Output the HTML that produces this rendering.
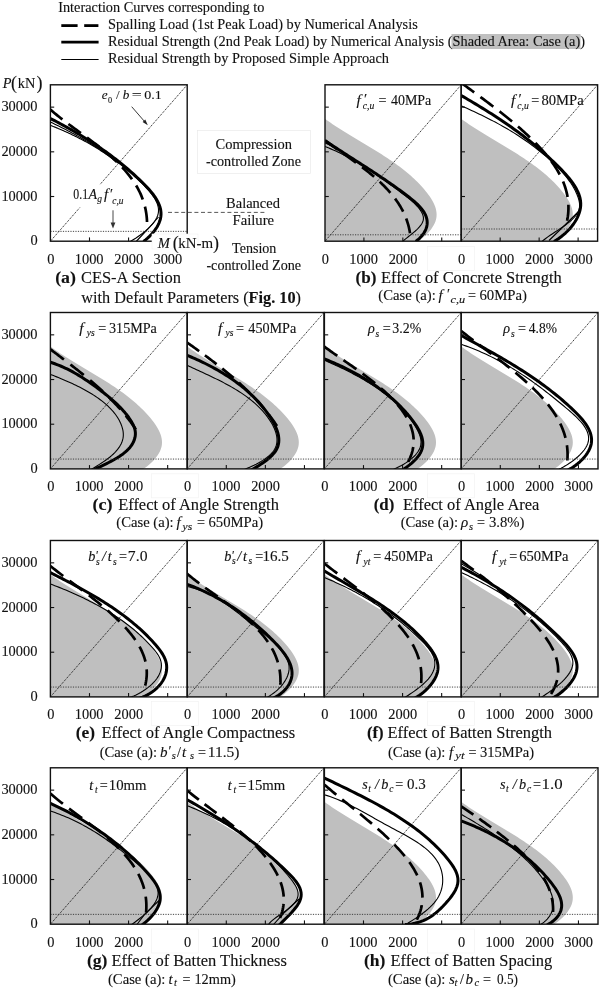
<!DOCTYPE html>
<html><head><meta charset="utf-8"><style>
html,body{margin:0;padding:0;background:#fff;}
svg{display:block;filter:grayscale(1);}
text{font-family:"Liberation Serif", serif;fill:#111;stroke:#111;stroke-width:0.12px;}
</style></head><body>
<svg width="600" height="989" viewBox="0 0 600 989">
<rect width="600" height="989" fill="#fff"/>
<line x1="61.3" y1="25.6" x2="77.6" y2="25.6" stroke="#000" stroke-width="2.8"/>
<line x1="84.2" y1="25.6" x2="98.4" y2="25.6" stroke="#000" stroke-width="2.8"/>
<line x1="61.3" y1="42.2" x2="98.6" y2="42.2" stroke="#000" stroke-width="2.8"/>
<line x1="61.3" y1="59.5" x2="98.6" y2="59.5" stroke="#000" stroke-width="1"/>
<rect x="451.5" y="34" width="129" height="15" fill="#c0c0c0"/>
<clipPath id="c_a"><rect x="50.4" y="84.8" width="136.8" height="156.4"/></clipPath>
<g clip-path="url(#c_a)">
<line x1="50.4" y1="241.2" x2="187.2" y2="84.8" stroke="#111" stroke-width="1" stroke-dasharray="1.05 1.05"/>
<path d="M50.4,122 L52.61,123.07 L54.82,124.14 L57.01,125.22 L59.19,126.31 L61.35,127.4 L63.51,128.49 L65.65,129.6 L67.78,130.71 L69.91,131.83 L72.02,132.96 L74.11,134.09 L76.2,135.24 L78.28,136.39 L80.35,137.56 L82.41,138.73 L84.45,139.92 L86.49,141.12 L88.52,142.33 L90.54,143.56 L92.54,144.8 L94.54,146.05 L96.53,147.32 L98.52,148.6 L100.49,149.9 L102.45,151.21 L104.41,152.54 L106.35,153.89 L108.29,155.25 L110.22,156.64 L112.14,158.04 L114.06,159.46 L115.97,160.9 L117.87,162.36 L119.76,163.84 L121.64,165.34 L123.52,166.86 L125.39,168.41 L127.26,169.98 L129.12,171.57 L130.97,173.19 L132.82,174.82 L134.66,176.49 L136.49,178.18 L138.32,179.89 L140.14,181.63 L141.96,183.4 L143.76,185.19 L145.52,187.01 L147.24,188.85 L148.9,190.71 L150.47,192.58 L151.95,194.47 L153.32,196.38 L154.57,198.29 L155.67,200.22 L156.62,202.15 L157.39,204.09 L157.98,206.04 L158.36,207.98 L158.53,209.93 L158.46,211.87 L158.14,213.81 L157.57,215.74 L156.76,217.67 L155.73,219.57 L154.5,221.46 L153.1,223.32 L151.53,225.15 L149.83,226.95 L148.01,228.71 L146.09,230.42 L144.08,232.09 L142.02,233.7 L139.92,235.25 L137.79,236.74 L135.67,238.17 L133.56,239.52 L131.49,240.8 L129.48,241.99" fill="none" stroke="#000" stroke-width="1.1"/>
<path d="M50.4,125.3 L51.31,125.66 L52.23,126.02 L53.14,126.39 L54.05,126.76 L54.96,127.13 L55.87,127.51 L56.77,127.88 L57.68,128.26 L58.59,128.64 L59.49,129.03 L60.4,129.41 L61.3,129.8 L62.2,130.2 L63.1,130.59 L64,130.99 L64.9,131.39 L65.8,131.79 L66.69,132.2 L67.59,132.61 L68.48,133.02 L69.37,133.44 L70.26,133.85 L71.15,134.28 L72.04,134.7 L72.93,135.13 L73.81,135.55 L74.7,135.99 L75.58,136.42 L76.46,136.86 L77.34,137.3 L78.22,137.75 L79.1,138.19 L79.97,138.65 L80.84,139.1 L81.71,139.56 L82.58,140.02 L83.45,140.48 L84.32,140.95 L85.18,141.41 L86.05,141.89 L86.91,142.36 L87.76,142.84 L88.62,143.32 L89.48,143.81 L90.33,144.3 L91.18,144.79 L92.03,145.29 L92.88,145.78 L93.72,146.29 L94.57,146.79 L95.41,147.3 L96.25,147.81 L97.08,148.33 L97.92,148.85 L98.75,149.37 L99.58,149.9 L100.41,150.43 L101.23,150.96 L102.06,151.5 L102.88,152.04 L103.7,152.58 L104.51,153.13 L105.33,153.68 L106.14,154.23 L106.95,154.79 L107.75,155.35 L108.56,155.92 L109.36,156.49 L110.16,157.06 L110.95,157.64 L111.75,158.22 L112.54,158.8 L113.33,159.39 L114.11,159.98 L114.9,160.58 L115.68,161.18 L116.45,161.78 L117.23,162.39 L118,163" fill="none" stroke="#000" stroke-width="1.1"/>
<path d="M158.5,217 L148,229 L136.2,241.5" fill="none" stroke="#000" stroke-width="1.1"/>
<path d="M50.42,109.6 L51.8,110.8 L53.21,112.01 L54.64,113.2 L56.08,114.4 L57.55,115.59 L59.03,116.77 L60.52,117.95 L62.03,119.13 L63.56,120.3 L65.09,121.48 L66.64,122.65 L68.2,123.82 L69.77,124.99 L71.35,126.16 L72.94,127.33 L74.53,128.5 L76.13,129.67 L77.74,130.84 L79.35,132.02 L80.96,133.19 L82.58,134.37 L84.19,135.56 L85.81,136.74 L87.43,137.93 L89.04,139.13 L90.65,140.32 L92.26,141.53 L93.86,142.74 L95.46,143.95 L97.05,145.18 L98.64,146.41 L100.22,147.64 L101.78,148.89 L103.34,150.14 L104.88,151.4 L106.42,152.67 L107.94,153.95 L109.44,155.24 L110.93,156.54 L112.41,157.85 L113.87,159.18 L115.31,160.51 L116.73,161.86 L118.13,163.21 L119.51,164.59 L120.86,165.97 L122.2,167.37 L123.51,168.78 L124.79,170.21 L126.05,171.65 L127.29,173.11 L128.49,174.59 L129.67,176.08 L130.82,177.59 L131.93,179.11 L133.02,180.65 L134.07,182.21 L135.09,183.79 L136.07,185.39 L137.02,187.01 L137.94,188.65 L138.81,190.31 L139.65,191.98 L140.45,193.68 L141.2,195.4 L141.92,197.15 L142.59,198.91 L143.22,200.7 L143.81,202.51 L144.35,204.35 L144.84,206.21 L145.29,208.09 L145.69,210 L146.04,211.94 L146.34,213.9 L146.59,215.88 L146.79,217.9 L146.94,219.94 L147.03,222.01" fill="none" stroke="#000" stroke-width="2.7" stroke-dasharray="15.52 7.51"/>
<path d="M50.4,118.49 L52.5,119.58 L54.6,120.67 L56.68,121.77 L58.76,122.88 L60.82,123.99 L62.88,125.1 L64.93,126.23 L66.98,127.36 L69.01,128.5 L71.04,129.65 L73.06,130.8 L75.07,131.97 L77.07,133.14 L79.06,134.33 L81.05,135.52 L83.03,136.72 L85,137.94 L86.96,139.16 L88.92,140.4 L90.87,141.64 L92.81,142.9 L94.74,144.17 L96.66,145.45 L98.58,146.75 L100.49,148.06 L102.39,149.38 L104.29,150.72 L106.18,152.07 L108.06,153.43 L109.93,154.81 L111.8,156.2 L113.65,157.61 L115.51,159.04 L117.35,160.48 L119.19,161.94 L121.02,163.41 L122.84,164.9 L124.65,166.41 L126.46,167.94 L128.27,169.49 L130.06,171.05 L131.85,172.63 L133.63,174.23 L135.4,175.86 L137.17,177.5 L138.93,179.16 L140.69,180.84 L142.43,182.54 L144.16,184.27 L145.86,186.01 L147.53,187.77 L149.14,189.56 L150.7,191.36 L152.19,193.18 L153.6,195.02 L154.92,196.88 L156.14,198.76 L157.24,200.66 L158.23,202.57 L159.08,204.5 L159.8,206.45 L160.36,208.41 L160.75,210.4 L160.98,212.39 L161.02,214.41 L160.86,216.44 L160.51,218.49 L159.95,220.54 L159.2,222.6 L158.27,224.65 L157.16,226.69 L155.9,228.7 L154.49,230.69 L152.94,232.63 L151.26,234.53 L149.47,236.38 L147.56,238.16 L145.56,239.87 L143.47,241.5" fill="none" stroke="#000" stroke-width="3" stroke-linejoin="round"/>
</g>
<clipPath id="c_b1"><rect x="325" y="84.8" width="136.2" height="156.4"/></clipPath>
<g clip-path="url(#c_b1)">
<path d="M325.01,118.79 L326.88,120.15 L328.77,121.5 L330.67,122.83 L332.6,124.15 L334.54,125.46 L336.5,126.76 L338.48,128.04 L340.47,129.32 L342.47,130.59 L344.48,131.85 L346.51,133.1 L348.55,134.35 L350.59,135.59 L352.64,136.83 L354.7,138.07 L356.77,139.31 L358.84,140.54 L360.91,141.78 L362.99,143.01 L365.07,144.25 L367.14,145.49 L369.22,146.74 L371.29,147.99 L373.36,149.25 L375.43,150.51 L377.49,151.78 L379.54,153.07 L381.59,154.36 L383.62,155.66 L385.65,156.97 L387.67,158.3 L389.67,159.64 L391.66,161 L393.64,162.37 L395.6,163.76 L397.54,165.17 L399.47,166.6 L401.38,168.04 L403.27,169.51 L405.13,171 L406.98,172.51 L408.8,174.04 L410.6,175.6 L412.37,177.19 L414.11,178.8 L415.83,180.44 L417.52,182.11 L419.18,183.81 L420.8,185.54 L422.4,187.3 L423.96,189.09 L425.49,190.91 L426.98,192.77 L428.41,194.67 L429.78,196.59 L431.07,198.54 L432.26,200.51 L433.34,202.51 L434.29,204.52 L435.1,206.56 L435.75,208.61 L436.23,210.68 L436.52,212.75 L436.61,214.84 L436.49,216.94 L436.13,219.04 L435.53,221.14 L434.7,223.24 L433.65,225.31 L432.41,227.37 L430.98,229.38 L429.4,231.34 L427.68,233.24 L425.84,235.08 L423.9,236.83 L421.87,238.49 L419.77,240.04 L417.63,241.48 L415.47,242.8 L323,243.2 L323,118.79 Z" fill="#bfbfbf" stroke="none"/>
<line x1="325" y1="241.2" x2="461.2" y2="84.8" stroke="#111" stroke-width="1" stroke-dasharray="1.05 1.05"/>
<path d="M325,146.49 L326.95,147.27 L328.88,148.06 L330.79,148.87 L332.68,149.68 L334.55,150.51 L336.4,151.36 L338.23,152.21 L340.05,153.08 L341.84,153.96 L343.63,154.86 L345.39,155.76 L347.14,156.68 L348.88,157.61 L350.61,158.55 L352.32,159.51 L354.03,160.48 L355.72,161.45 L357.41,162.45 L359.08,163.45 L360.75,164.46 L362.41,165.49 L364.07,166.53 L365.72,167.58 L367.36,168.64 L369,169.71 L370.64,170.8 L372.28,171.89 L373.92,173 L375.55,174.12 L377.19,175.25 L378.83,176.39 L380.47,177.54 L382.11,178.71 L383.75,179.88 L385.41,181.07 L387.06,182.26 L388.72,183.47 L390.39,184.69 L392.07,185.91 L393.76,187.15 L395.45,188.4 L397.16,189.66 L398.88,190.93 L400.6,192.21 L402.34,193.5 L404.08,194.8 L405.8,196.12 L407.51,197.44 L409.18,198.79 L410.82,200.15 L412.41,201.52 L413.93,202.91 L415.39,204.33 L416.77,205.76 L418.07,207.21 L419.26,208.68 L420.35,210.18 L421.32,211.7 L422.15,213.23 L422.8,214.78 L423.24,216.34 L423.45,217.89 L423.38,219.43 L423.04,220.95 L422.44,222.47 L421.62,223.97 L420.61,225.45 L419.41,226.92 L418.07,228.37 L416.6,229.81 L415.04,231.23 L413.4,232.64 L411.71,234.03 L410,235.4 L408.29,236.76 L406.61,238.09 L404.99,239.41 L403.44,240.71 L401.99,242" fill="none" stroke="#000" stroke-width="1.1"/>
<path d="M325,143 L333,146.5 L343,152.5" fill="none" stroke="#000" stroke-width="1.1"/>
<path d="M325.02,140.49 L326.26,141.41 L327.52,142.34 L328.79,143.27 L330.07,144.2 L331.35,145.13 L332.65,146.06 L333.96,146.99 L335.28,147.93 L336.6,148.86 L337.93,149.8 L339.27,150.74 L340.61,151.68 L341.96,152.63 L343.31,153.58 L344.66,154.53 L346.02,155.49 L347.38,156.45 L348.75,157.41 L350.11,158.38 L351.48,159.35 L352.84,160.33 L354.21,161.31 L355.57,162.3 L356.93,163.29 L358.29,164.29 L359.64,165.3 L361,166.31 L362.34,167.33 L363.68,168.35 L365.02,169.38 L366.35,170.42 L367.67,171.46 L368.99,172.52 L370.29,173.58 L371.59,174.65 L372.88,175.72 L374.16,176.81 L375.42,177.91 L376.68,179.01 L377.92,180.12 L379.15,181.24 L380.37,182.38 L381.57,183.52 L382.76,184.67 L383.93,185.83 L385.08,187.01 L386.22,188.19 L387.35,189.39 L388.45,190.6 L389.54,191.81 L390.6,193.05 L391.65,194.29 L392.67,195.54 L393.68,196.81 L394.66,198.09 L395.62,199.39 L396.56,200.69 L397.47,202.01 L398.36,203.35 L399.22,204.7 L400.06,206.06 L400.87,207.44 L401.66,208.83 L402.42,210.23 L403.14,211.66 L403.84,213.09 L404.51,214.55 L405.16,216.02 L405.76,217.5 L406.34,219 L406.89,220.52 L407.4,222.06 L407.88,223.61 L408.33,225.18 L408.74,226.77 L409.12,228.37 L409.46,229.99 L409.76,231.63 L410.03,233.29" fill="none" stroke="#000" stroke-width="2.7" stroke-dasharray="15.39 7.45"/>
<path d="M325,140.49 L326.68,141.64 L328.36,142.78 L330.03,143.91 L331.7,145.03 L333.38,146.14 L335.05,147.25 L336.71,148.36 L338.38,149.45 L340.05,150.54 L341.72,151.63 L343.38,152.71 L345.05,153.79 L346.71,154.86 L348.37,155.93 L350.03,157 L351.69,158.06 L353.35,159.13 L355.01,160.19 L356.67,161.25 L358.32,162.31 L359.98,163.37 L361.64,164.43 L363.29,165.5 L364.94,166.56 L366.6,167.63 L368.25,168.69 L369.9,169.77 L371.56,170.84 L373.21,171.92 L374.86,173 L376.51,174.09 L378.16,175.18 L379.81,176.28 L381.46,177.38 L383.11,178.49 L384.76,179.61 L386.41,180.73 L388.06,181.87 L389.71,183.01 L391.36,184.16 L393,185.32 L394.65,186.49 L396.3,187.67 L397.95,188.86 L399.6,190.06 L401.25,191.27 L402.9,192.49 L404.55,193.73 L406.2,194.98 L407.85,196.24 L409.49,197.52 L411.11,198.82 L412.71,200.13 L414.28,201.45 L415.8,202.8 L417.26,204.17 L418.66,205.56 L419.99,206.97 L421.23,208.4 L422.39,209.86 L423.44,211.34 L424.38,212.85 L425.2,214.39 L425.89,215.95 L426.44,217.55 L426.85,219.17 L427.1,220.82 L427.2,222.49 L427.12,224.18 L426.88,225.88 L426.46,227.6 L425.85,229.33 L425.04,231.06 L424.04,232.8 L422.83,234.55 L421.41,236.3 L419.76,238.04 L417.89,239.78 L415.79,241.51" fill="none" stroke="#000" stroke-width="3" stroke-linejoin="round"/>
</g>
<clipPath id="c_b2"><rect x="461.2" y="84.8" width="136.4" height="156.4"/></clipPath>
<g clip-path="url(#c_b2)">
<path d="M461.21,118.79 L463.08,120.15 L464.97,121.5 L466.87,122.83 L468.8,124.15 L470.74,125.46 L472.7,126.76 L474.68,128.04 L476.67,129.32 L478.67,130.59 L480.68,131.85 L482.71,133.1 L484.75,134.35 L486.79,135.59 L488.84,136.83 L490.9,138.07 L492.97,139.31 L495.04,140.54 L497.11,141.78 L499.19,143.01 L501.27,144.25 L503.34,145.49 L505.42,146.74 L507.49,147.99 L509.56,149.25 L511.63,150.51 L513.69,151.78 L515.74,153.07 L517.79,154.36 L519.82,155.66 L521.85,156.97 L523.87,158.3 L525.87,159.64 L527.86,161 L529.84,162.37 L531.8,163.76 L533.74,165.17 L535.67,166.6 L537.58,168.04 L539.47,169.51 L541.33,171 L543.18,172.51 L545,174.04 L546.8,175.6 L548.57,177.19 L550.31,178.8 L552.03,180.44 L553.72,182.11 L555.38,183.81 L557,185.54 L558.6,187.3 L560.16,189.09 L561.69,190.91 L563.18,192.77 L564.61,194.67 L565.98,196.59 L567.27,198.54 L568.46,200.51 L569.54,202.51 L570.49,204.52 L571.3,206.56 L571.95,208.61 L572.43,210.68 L572.72,212.75 L572.81,214.84 L572.69,216.94 L572.33,219.04 L571.73,221.14 L570.9,223.24 L569.85,225.31 L568.61,227.37 L567.18,229.38 L565.6,231.34 L563.88,233.24 L562.04,235.08 L560.1,236.83 L558.07,238.49 L555.97,240.04 L553.83,241.48 L551.67,242.8 L459.2,243.2 L459.2,118.79 Z" fill="#bfbfbf" stroke="none"/>
<line x1="461.2" y1="241.2" x2="597.6" y2="84.8" stroke="#111" stroke-width="1" stroke-dasharray="1.05 1.05"/>
<path d="M461.19,105.8 L463.79,106.95 L466.37,108.11 L468.92,109.26 L471.45,110.42 L473.95,111.58 L476.44,112.75 L478.9,113.92 L481.35,115.1 L483.77,116.28 L486.18,117.47 L488.57,118.68 L490.94,119.89 L493.3,121.12 L495.64,122.36 L497.97,123.61 L500.28,124.88 L502.59,126.17 L504.87,127.47 L507.15,128.8 L509.42,130.14 L511.67,131.5 L513.92,132.89 L516.16,134.3 L518.39,135.74 L520.61,137.2 L522.83,138.69 L525.04,140.21 L527.25,141.75 L529.45,143.33 L531.65,144.94 L533.85,146.58 L536.05,148.26 L538.24,149.97 L540.43,151.71 L542.63,153.5 L544.81,155.32 L546.98,157.17 L549.13,159.06 L551.25,160.98 L553.35,162.93 L555.41,164.91 L557.42,166.93 L559.39,168.97 L561.31,171.04 L563.17,173.14 L564.97,175.27 L566.7,177.42 L568.35,179.6 L569.93,181.81 L571.42,184.03 L572.81,186.28 L574.12,188.55 L575.32,190.85 L576.41,193.16 L577.39,195.49 L578.25,197.84 L578.94,200.19 L579.42,202.54 L579.63,204.85 L579.53,207.13 L579.08,209.36 L578.25,211.52 L577.1,213.63 L575.66,215.68 L573.95,217.68 L572.02,219.63 L569.89,221.53 L567.61,223.39 L565.2,225.2 L562.71,226.98 L560.16,228.71 L557.6,230.41 L555.05,232.08 L552.54,233.71 L550.13,235.31 L547.83,236.89 L545.69,238.45 L543.73,239.98 L542,241.5" fill="none" stroke="#000" stroke-width="1.1"/>
<path d="M580,210 L565,225 L549,240.5" fill="none" stroke="#000" stroke-width="1.1"/>
<path d="M461.24,82.79 L463,84.1 L464.77,85.42 L466.56,86.74 L468.36,88.07 L470.17,89.4 L471.99,90.75 L473.82,92.09 L475.66,93.45 L477.5,94.81 L479.36,96.18 L481.22,97.56 L483.08,98.95 L484.95,100.34 L486.83,101.74 L488.7,103.15 L490.58,104.57 L492.46,106 L494.35,107.43 L496.23,108.88 L498.11,110.33 L499.99,111.8 L501.87,113.27 L503.74,114.75 L505.61,116.25 L507.47,117.75 L509.33,119.27 L511.18,120.8 L513.03,122.33 L514.86,123.88 L516.69,125.44 L518.51,127.01 L520.32,128.6 L522.12,130.19 L523.9,131.8 L525.67,133.42 L527.43,135.06 L529.17,136.7 L530.9,138.36 L532.61,140.04 L534.31,141.72 L535.98,143.42 L537.64,145.14 L539.27,146.87 L540.89,148.61 L542.47,150.37 L544.03,152.15 L545.56,153.93 L547.05,155.74 L548.52,157.56 L549.94,159.4 L551.33,161.25 L552.68,163.12 L553.99,165.01 L555.26,166.92 L556.48,168.84 L557.65,170.78 L558.77,172.74 L559.84,174.72 L560.86,176.71 L561.83,178.73 L562.73,180.77 L563.58,182.82 L564.37,184.89 L565.09,186.99 L565.75,189.1 L566.34,191.24 L566.86,193.4 L567.32,195.57 L567.69,197.77 L568,199.99 L568.23,202.24 L568.38,204.5 L568.44,206.79 L568.43,209.1 L568.33,211.44 L568.15,213.79 L567.87,216.18 L567.51,218.58 L567.05,221.01" fill="none" stroke="#000" stroke-width="2.7" stroke-dasharray="16.11 7.79"/>
<path d="M461.2,95.5 L463.58,96.88 L465.96,98.27 L468.32,99.67 L470.68,101.06 L473.02,102.46 L475.36,103.87 L477.69,105.27 L480.01,106.69 L482.32,108.11 L484.62,109.53 L486.91,110.97 L489.2,112.41 L491.47,113.86 L493.73,115.31 L495.99,116.78 L498.24,118.26 L500.47,119.74 L502.7,121.24 L504.92,122.75 L507.14,124.27 L509.34,125.81 L511.53,127.35 L513.72,128.92 L515.89,130.49 L518.06,132.08 L520.22,133.69 L522.37,135.31 L524.51,136.95 L526.64,138.6 L528.77,140.28 L530.88,141.97 L532.99,143.68 L535.09,145.41 L537.18,147.16 L539.26,148.93 L541.33,150.72 L543.39,152.53 L545.45,154.37 L547.5,156.23 L549.54,158.11 L551.57,160.01 L553.59,161.94 L555.6,163.9 L557.61,165.88 L559.61,167.89 L561.59,169.92 L563.54,171.98 L565.46,174.06 L567.32,176.17 L569.11,178.3 L570.82,180.46 L572.45,182.64 L573.96,184.84 L575.36,187.06 L576.62,189.31 L577.74,191.58 L578.7,193.86 L579.5,196.17 L580.11,198.5 L580.52,200.85 L580.72,203.21 L580.7,205.6 L580.45,208 L579.98,210.4 L579.29,212.81 L578.41,215.21 L577.33,217.59 L576.08,219.95 L574.66,222.27 L573.1,224.54 L571.38,226.76 L569.54,228.92 L567.58,231 L565.52,233.01 L563.35,234.92 L561.11,236.74 L558.79,238.45 L556.41,240.04 L553.99,241.51" fill="none" stroke="#000" stroke-width="3" stroke-linejoin="round"/>
</g>
<clipPath id="c_c1"><rect x="50.4" y="312.5" width="136.8" height="156.4"/></clipPath>
<g clip-path="url(#c_c1)">
<path d="M50.41,346.49 L52.28,347.85 L54.17,349.2 L56.07,350.53 L58,351.85 L59.94,353.16 L61.9,354.46 L63.88,355.74 L65.87,357.02 L67.87,358.29 L69.88,359.55 L71.91,360.8 L73.95,362.05 L75.99,363.29 L78.04,364.53 L80.1,365.77 L82.17,367.01 L84.24,368.24 L86.31,369.48 L88.39,370.71 L90.47,371.95 L92.54,373.19 L94.62,374.44 L96.69,375.69 L98.76,376.95 L100.83,378.21 L102.89,379.48 L104.94,380.77 L106.99,382.06 L109.02,383.36 L111.05,384.67 L113.07,386 L115.07,387.34 L117.06,388.7 L119.04,390.07 L121,391.46 L122.94,392.87 L124.87,394.3 L126.78,395.74 L128.67,397.21 L130.53,398.7 L132.38,400.21 L134.2,401.74 L136,403.3 L137.77,404.89 L139.51,406.5 L141.23,408.14 L142.92,409.81 L144.58,411.51 L146.2,413.24 L147.8,415 L149.36,416.79 L150.89,418.61 L152.38,420.47 L153.81,422.37 L155.18,424.29 L156.47,426.24 L157.66,428.21 L158.74,430.21 L159.69,432.22 L160.5,434.26 L161.15,436.31 L161.63,438.38 L161.92,440.45 L162.01,442.54 L161.89,444.64 L161.53,446.74 L160.93,448.84 L160.1,450.94 L159.05,453.01 L157.81,455.07 L156.38,457.08 L154.8,459.04 L153.08,460.94 L151.24,462.78 L149.3,464.53 L147.27,466.19 L145.17,467.74 L143.03,469.18 L140.87,470.5 L48.4,470.9 L48.4,346.49 Z" fill="#bfbfbf" stroke="none"/>
<line x1="50.4" y1="468.9" x2="187.2" y2="312.5" stroke="#111" stroke-width="1" stroke-dasharray="1.05 1.05"/>
<path d="M50.42,374.4 L51.94,374.99 L53.49,375.6 L55.07,376.24 L56.69,376.88 L58.34,377.55 L60.01,378.24 L61.71,378.95 L63.43,379.67 L65.17,380.41 L66.93,381.18 L68.7,381.96 L70.48,382.77 L72.27,383.59 L74.07,384.44 L75.87,385.3 L77.68,386.19 L79.49,387.09 L81.29,388.02 L83.09,388.97 L84.88,389.95 L86.66,390.94 L88.43,391.96 L90.18,392.99 L91.92,394.05 L93.63,395.14 L95.33,396.25 L97,397.38 L98.64,398.53 L100.25,399.71 L101.83,400.91 L103.38,402.13 L104.89,403.38 L106.36,404.66 L107.78,405.95 L109.17,407.28 L110.51,408.63 L111.79,410 L113.03,411.4 L114.21,412.83 L115.34,414.28 L116.4,415.75 L117.41,417.26 L118.35,418.79 L119.23,420.35 L120.03,421.93 L120.77,423.54 L121.43,425.18 L122.01,426.84 L122.49,428.52 L122.88,430.22 L123.15,431.92 L123.3,433.62 L123.32,435.33 L123.2,437.02 L122.92,438.71 L122.49,440.37 L121.92,442.02 L121.21,443.65 L120.37,445.26 L119.41,446.84 L118.34,448.39 L117.16,449.91 L115.89,451.4 L114.53,452.85 L113.08,454.26 L111.56,455.63 L109.98,456.96 L108.35,458.25 L106.67,459.49 L104.97,460.7 L103.25,461.87 L101.53,462.99 L99.82,464.09 L98.13,465.15 L96.48,466.18 L94.88,467.17 L93.34,468.14 L91.87,469.08 L90.5,469.99" fill="none" stroke="#000" stroke-width="1.1"/>
<path d="M50.4,349.3 L51.59,350.19 L52.77,351.09 L53.96,351.98 L55.15,352.88 L56.34,353.78 L57.53,354.68 L58.72,355.58 L59.92,356.49 L61.11,357.39 L62.31,358.3 L63.5,359.21 L64.7,360.12 L65.9,361.04 L67.1,361.95 L68.29,362.87 L69.49,363.79 L70.69,364.72 L71.88,365.64 L73.08,366.57 L74.27,367.5 L75.47,368.44 L76.66,369.37 L77.85,370.31 L79.04,371.26 L80.22,372.2 L81.41,373.15 L82.59,374.1 L83.77,375.06 L84.94,376.02 L86.12,376.98 L87.29,377.95 L88.45,378.92 L89.62,379.89 L90.78,380.87 L91.93,381.85 L93.09,382.84 L94.23,383.82 L95.38,384.82 L96.52,385.82 L97.65,386.82 L98.78,387.82 L99.9,388.83 L101.02,389.85 L102.14,390.87 L103.25,391.89 L104.35,392.92 L105.44,393.95 L106.53,394.99 L107.62,396.03 L108.69,397.08 L109.76,398.13 L110.83,399.19 L111.88,400.26 L112.93,401.32 L113.97,402.4 L115.01,403.48 L116.03,404.56 L117.05,405.65 L118.06,406.75 L119.06,407.85 L120.05,408.96 L121.03,410.07 L122.01,411.19 L122.97,412.32 L123.93,413.45 L124.88,414.59 L125.81,415.73 L126.74,416.88 L127.66,418.04 L128.56,419.2 L129.46,420.38 L130.34,421.55 L131.22,422.74 L132.08,423.93 L132.93,425.12 L133.77,426.33 L134.6,427.54 L135.42,428.76 L136.23,429.98" fill="none" stroke="#000" stroke-width="2.7" stroke-dasharray="16.97 8.21"/>
<path d="M50.39,362.2 L52.64,362.96 L54.83,363.74 L56.98,364.55 L59.08,365.39 L61.15,366.25 L63.17,367.13 L65.15,368.05 L67.11,368.98 L69.03,369.94 L70.93,370.93 L72.8,371.94 L74.65,372.97 L76.48,374.03 L78.29,375.11 L80.09,376.22 L81.88,377.34 L83.66,378.49 L85.43,379.66 L87.21,380.86 L88.98,382.07 L90.76,383.31 L92.54,384.57 L94.33,385.85 L96.13,387.15 L97.94,388.47 L99.74,389.81 L101.55,391.18 L103.36,392.56 L105.15,393.97 L106.94,395.39 L108.71,396.85 L110.46,398.32 L112.19,399.81 L113.9,401.33 L115.58,402.87 L117.23,404.43 L118.84,406.01 L120.42,407.62 L121.96,409.25 L123.45,410.9 L124.89,412.58 L126.28,414.28 L127.62,416 L128.9,417.75 L130.12,419.52 L131.26,421.32 L132.32,423.14 L133.26,424.98 L134.06,426.84 L134.69,428.71 L135.14,430.61 L135.37,432.52 L135.39,434.45 L135.19,436.37 L134.78,438.29 L134.18,440.18 L133.39,442.05 L132.42,443.89 L131.27,445.67 L129.96,447.4 L128.49,449.06 L126.89,450.66 L125.15,452.19 L123.31,453.67 L121.38,455.09 L119.36,456.45 L117.29,457.76 L115.17,459.02 L113.03,460.23 L110.87,461.39 L108.71,462.5 L106.58,463.57 L104.48,464.6 L102.43,465.59 L100.44,466.54 L98.54,467.45 L96.74,468.33 L95.06,469.18 L93.51,469.99" fill="none" stroke="#000" stroke-width="3" stroke-linejoin="round"/>
</g>
<clipPath id="c_c2"><rect x="187.2" y="312.5" width="136.8" height="156.4"/></clipPath>
<g clip-path="url(#c_c2)">
<path d="M187.21,346.49 L189.08,347.85 L190.97,349.2 L192.87,350.53 L194.8,351.85 L196.74,353.16 L198.7,354.46 L200.68,355.74 L202.67,357.02 L204.67,358.29 L206.68,359.55 L208.71,360.8 L210.75,362.05 L212.79,363.29 L214.84,364.53 L216.9,365.77 L218.97,367.01 L221.04,368.24 L223.11,369.48 L225.19,370.71 L227.27,371.95 L229.34,373.19 L231.42,374.44 L233.49,375.69 L235.56,376.95 L237.63,378.21 L239.69,379.48 L241.74,380.77 L243.79,382.06 L245.82,383.36 L247.85,384.67 L249.87,386 L251.87,387.34 L253.86,388.7 L255.84,390.07 L257.8,391.46 L259.74,392.87 L261.67,394.3 L263.58,395.74 L265.47,397.21 L267.33,398.7 L269.18,400.21 L271,401.74 L272.8,403.3 L274.57,404.89 L276.31,406.5 L278.03,408.14 L279.72,409.81 L281.38,411.51 L283,413.24 L284.6,415 L286.16,416.79 L287.69,418.61 L289.18,420.47 L290.61,422.37 L291.98,424.29 L293.27,426.24 L294.46,428.21 L295.54,430.21 L296.49,432.22 L297.3,434.26 L297.95,436.31 L298.43,438.38 L298.72,440.45 L298.81,442.54 L298.69,444.64 L298.33,446.74 L297.73,448.84 L296.9,450.94 L295.85,453.01 L294.61,455.07 L293.18,457.08 L291.6,459.04 L289.88,460.94 L288.04,462.78 L286.1,464.53 L284.07,466.19 L281.97,467.74 L279.83,469.18 L277.67,470.5 L185.2,470.9 L185.2,346.49 Z" fill="#bfbfbf" stroke="none"/>
<line x1="187.2" y1="468.9" x2="324" y2="312.5" stroke="#111" stroke-width="1" stroke-dasharray="1.05 1.05"/>
<path d="M187.21,365.29 L189.04,366.16 L190.89,367.03 L192.75,367.9 L194.64,368.78 L196.54,369.66 L198.45,370.55 L200.38,371.44 L202.32,372.34 L204.27,373.24 L206.23,374.15 L208.19,375.08 L210.16,376.01 L212.14,376.95 L214.12,377.9 L216.09,378.87 L218.07,379.85 L220.05,380.84 L222.02,381.85 L223.98,382.87 L225.94,383.91 L227.89,384.97 L229.83,386.04 L231.75,387.13 L233.67,388.25 L235.56,389.38 L237.45,390.53 L239.31,391.71 L241.15,392.91 L242.98,394.13 L244.78,395.38 L246.55,396.65 L248.3,397.95 L250.02,399.28 L251.72,400.63 L253.38,402.01 L255.01,403.42 L256.61,404.86 L258.17,406.34 L259.69,407.84 L261.18,409.38 L262.62,410.95 L264.03,412.56 L265.39,414.2 L266.7,415.87 L267.97,417.59 L269.19,419.34 L270.36,421.13 L271.48,422.95 L272.52,424.8 L273.48,426.68 L274.35,428.57 L275.11,430.49 L275.76,432.41 L276.28,434.33 L276.67,436.26 L276.91,438.17 L276.99,440.08 L276.9,441.98 L276.63,443.85 L276.16,445.7 L275.49,447.52 L274.61,449.3 L273.5,451.04 L272.15,452.74 L270.59,454.38 L268.84,455.98 L266.94,457.51 L264.91,458.99 L262.78,460.4 L260.59,461.74 L258.37,463 L256.14,464.19 L253.94,465.3 L251.79,466.32 L249.74,467.25 L247.8,468.08 L246.01,468.82 L244.4,469.46 L243,469.99" fill="none" stroke="#000" stroke-width="1.1"/>
<path d="M187.2,342.6 L188.47,343.49 L189.73,344.39 L191,345.29 L192.27,346.19 L193.53,347.09 L194.8,347.99 L196.06,348.9 L197.33,349.81 L198.59,350.72 L199.85,351.64 L201.12,352.55 L202.38,353.47 L203.64,354.4 L204.89,355.32 L206.15,356.25 L207.41,357.18 L208.66,358.12 L209.91,359.06 L211.16,360 L212.41,360.95 L213.65,361.9 L214.89,362.85 L216.13,363.81 L217.37,364.77 L218.6,365.73 L219.83,366.7 L221.06,367.67 L222.28,368.65 L223.5,369.63 L224.72,370.62 L225.93,371.61 L227.14,372.6 L228.34,373.6 L229.54,374.6 L230.74,375.61 L231.93,376.62 L233.12,377.64 L234.3,378.67 L235.48,379.69 L236.65,380.73 L237.82,381.77 L238.98,382.81 L240.14,383.86 L241.29,384.92 L242.44,385.98 L243.58,387.04 L244.71,388.12 L245.84,389.19 L246.96,390.28 L248.07,391.37 L249.18,392.47 L250.28,393.57 L251.38,394.68 L252.47,395.79 L253.55,396.91 L254.62,398.04 L255.69,399.18 L256.75,400.32 L257.8,401.47 L258.84,402.62 L259.88,403.79 L260.9,404.95 L261.92,406.13 L262.93,407.31 L263.94,408.51 L264.93,409.7 L265.92,410.91 L266.89,412.12 L267.86,413.35 L268.82,414.57 L269.77,415.81 L270.7,417.06 L271.63,418.31 L272.55,419.57 L273.46,420.84 L274.36,422.12 L275.25,423.4 L276.13,424.7 L277,426" fill="none" stroke="#000" stroke-width="2.7" stroke-dasharray="14.69 7.11"/>
<path d="M187.21,355.39 L189.14,356.19 L191.08,357 L193.03,357.83 L194.97,358.69 L196.93,359.56 L198.88,360.45 L200.83,361.37 L202.79,362.3 L204.74,363.25 L206.7,364.23 L208.65,365.23 L210.59,366.24 L212.54,367.28 L214.47,368.34 L216.4,369.42 L218.33,370.52 L220.24,371.64 L222.15,372.79 L224.05,373.95 L225.93,375.14 L227.8,376.35 L229.66,377.58 L231.51,378.83 L233.34,380.1 L235.16,381.4 L236.96,382.71 L238.74,384.05 L240.5,385.41 L242.25,386.8 L243.97,388.21 L245.67,389.63 L247.35,391.09 L249.01,392.56 L250.64,394.06 L252.25,395.58 L253.83,397.12 L255.38,398.69 L256.91,400.27 L258.41,401.89 L259.87,403.52 L261.31,405.18 L262.71,406.86 L264.09,408.57 L265.42,410.3 L266.73,412.05 L268,413.83 L269.23,415.63 L270.42,417.45 L271.58,419.3 L272.69,421.17 L273.74,423.07 L274.72,424.97 L275.63,426.89 L276.45,428.82 L277.17,430.76 L277.77,432.7 L278.25,434.63 L278.6,436.57 L278.8,438.5 L278.85,440.42 L278.73,442.33 L278.43,444.23 L277.94,446.1 L277.24,447.95 L276.34,449.78 L275.21,451.58 L273.86,453.35 L272.31,455.08 L270.6,456.77 L268.75,458.41 L266.8,460 L264.79,461.52 L262.73,462.98 L260.68,464.36 L258.65,465.67 L256.69,466.89 L254.82,468.02 L253.08,469.06 L251.49,469.99" fill="none" stroke="#000" stroke-width="3" stroke-linejoin="round"/>
</g>
<clipPath id="c_d1"><rect x="324.4" y="312.5" width="136.8" height="156.4"/></clipPath>
<g clip-path="url(#c_d1)">
<path d="M324.41,346.49 L326.28,347.85 L328.17,349.2 L330.07,350.53 L332,351.85 L333.94,353.16 L335.9,354.46 L337.88,355.74 L339.87,357.02 L341.87,358.29 L343.88,359.55 L345.91,360.8 L347.95,362.05 L349.99,363.29 L352.04,364.53 L354.1,365.77 L356.17,367.01 L358.24,368.24 L360.31,369.48 L362.39,370.71 L364.47,371.95 L366.54,373.19 L368.62,374.44 L370.69,375.69 L372.76,376.95 L374.83,378.21 L376.89,379.48 L378.94,380.77 L380.99,382.06 L383.02,383.36 L385.05,384.67 L387.07,386 L389.07,387.34 L391.06,388.7 L393.04,390.07 L395,391.46 L396.94,392.87 L398.87,394.3 L400.78,395.74 L402.67,397.21 L404.53,398.7 L406.38,400.21 L408.2,401.74 L410,403.3 L411.77,404.89 L413.51,406.5 L415.23,408.14 L416.92,409.81 L418.58,411.51 L420.2,413.24 L421.8,415 L423.36,416.79 L424.89,418.61 L426.38,420.47 L427.81,422.37 L429.18,424.29 L430.47,426.24 L431.66,428.21 L432.74,430.21 L433.69,432.22 L434.5,434.26 L435.15,436.31 L435.63,438.38 L435.92,440.45 L436.01,442.54 L435.89,444.64 L435.53,446.74 L434.93,448.84 L434.1,450.94 L433.05,453.01 L431.81,455.07 L430.38,457.08 L428.8,459.04 L427.08,460.94 L425.24,462.78 L423.3,464.53 L421.27,466.19 L419.17,467.74 L417.03,469.18 L414.87,470.5 L322.4,470.9 L322.4,346.49 Z" fill="#bfbfbf" stroke="none"/>
<line x1="324.4" y1="468.9" x2="461.2" y2="312.5" stroke="#111" stroke-width="1" stroke-dasharray="1.05 1.05"/>
<path d="M324.41,360.3 L326.3,361.11 L328.21,361.94 L330.14,362.78 L332.07,363.64 L334.01,364.52 L335.96,365.41 L337.92,366.31 L339.88,367.23 L341.85,368.17 L343.83,369.12 L345.81,370.09 L347.78,371.08 L349.76,372.08 L351.74,373.11 L353.72,374.14 L355.7,375.2 L357.67,376.27 L359.63,377.37 L361.6,378.48 L363.55,379.6 L365.49,380.75 L367.43,381.92 L369.36,383.1 L371.27,384.31 L373.17,385.53 L375.06,386.78 L376.93,388.04 L378.79,389.33 L380.63,390.63 L382.45,391.96 L384.25,393.3 L386.03,394.67 L387.79,396.06 L389.53,397.47 L391.24,398.9 L392.93,400.36 L394.59,401.84 L396.22,403.34 L397.83,404.86 L399.41,406.4 L400.95,407.97 L402.47,409.56 L403.95,411.18 L405.4,412.82 L406.81,414.48 L408.19,416.17 L409.52,417.88 L410.82,419.62 L412.09,421.38 L413.31,423.16 L414.48,424.98 L415.62,426.81 L416.7,428.67 L417.71,430.55 L418.62,432.45 L419.41,434.36 L420.08,436.28 L420.58,438.2 L420.91,440.13 L421.03,442.05 L420.94,443.96 L420.62,445.87 L420.03,447.76 L419.19,449.63 L418.11,451.47 L416.81,453.27 L415.33,455.03 L413.67,456.74 L411.87,458.39 L409.93,459.96 L407.9,461.46 L405.8,462.88 L403.67,464.21 L401.53,465.45 L399.43,466.58 L397.39,467.61 L395.45,468.52 L393.64,469.32 L391.99,469.99" fill="none" stroke="#000" stroke-width="1.1"/>
<path d="M324.42,346.7 L325.9,347.79 L327.39,348.88 L328.91,349.97 L330.44,351.07 L331.98,352.17 L333.54,353.27 L335.12,354.37 L336.71,355.48 L338.31,356.6 L339.92,357.71 L341.54,358.84 L343.18,359.97 L344.81,361.1 L346.46,362.24 L348.11,363.38 L349.77,364.54 L351.43,365.7 L353.1,366.86 L354.76,368.04 L356.43,369.22 L358.1,370.41 L359.76,371.61 L361.43,372.81 L363.09,374.03 L364.74,375.26 L366.4,376.49 L368.04,377.74 L369.68,379 L371.31,380.27 L372.93,381.55 L374.54,382.84 L376.14,384.14 L377.72,385.46 L379.3,386.78 L380.85,388.13 L382.4,389.48 L383.92,390.85 L385.43,392.23 L386.92,393.63 L388.39,395.04 L389.84,396.47 L391.27,397.91 L392.68,399.37 L394.06,400.84 L395.42,402.33 L396.75,403.84 L398.05,405.36 L399.31,406.9 L400.54,408.45 L401.73,410.02 L402.88,411.6 L403.98,413.2 L405.04,414.82 L406.06,416.45 L407.02,418.1 L407.92,419.76 L408.77,421.44 L409.56,423.13 L410.29,424.84 L410.96,426.56 L411.56,428.3 L412.08,430.05 L412.54,431.82 L412.93,433.6 L413.23,435.39 L413.46,437.2 L413.61,439.03 L413.67,440.87 L413.64,442.72 L413.53,444.59 L413.32,446.47 L413.02,448.37 L412.62,450.28 L412.12,452.2 L411.51,454.14 L410.81,456.09 L409.99,458.05 L409.07,460.03 L408.03,462.02" fill="none" stroke="#000" stroke-width="2.7" stroke-dasharray="15.75 7.62"/>
<path d="M324.41,358.89 L326.34,359.67 L328.27,360.46 L330.2,361.27 L332.13,362.1 L334.07,362.94 L336,363.8 L337.94,364.67 L339.88,365.56 L341.81,366.47 L343.74,367.4 L345.67,368.34 L347.6,369.3 L349.52,370.28 L351.44,371.27 L353.35,372.28 L355.25,373.31 L357.15,374.36 L359.05,375.43 L360.93,376.51 L362.81,377.61 L364.68,378.73 L366.53,379.87 L368.38,381.03 L370.22,382.2 L372.04,383.39 L373.85,384.61 L375.65,385.84 L377.44,387.09 L379.21,388.36 L380.96,389.65 L382.7,390.96 L384.43,392.28 L386.14,393.63 L387.83,395 L389.5,396.38 L391.15,397.79 L392.78,399.22 L394.4,400.66 L395.99,402.13 L397.56,403.62 L399.11,405.12 L400.64,406.65 L402.14,408.2 L403.62,409.77 L405.07,411.36 L406.5,412.97 L407.91,414.6 L409.28,416.26 L410.63,417.93 L411.95,419.63 L413.25,421.35 L414.51,423.09 L415.72,424.84 L416.87,426.62 L417.96,428.41 L418.97,430.22 L419.88,432.04 L420.7,433.87 L421.4,435.71 L421.97,437.56 L422.4,439.42 L422.69,441.28 L422.82,443.14 L422.77,445.01 L422.54,446.88 L422.12,448.75 L421.49,450.61 L420.64,452.47 L419.57,454.32 L418.29,456.16 L416.84,457.97 L415.24,459.74 L413.53,461.45 L411.73,463.11 L409.88,464.68 L407.99,466.17 L406.12,467.56 L404.27,468.84 L402.48,470" fill="none" stroke="#000" stroke-width="3" stroke-linejoin="round"/>
</g>
<clipPath id="c_d2"><rect x="461.2" y="312.5" width="136.8" height="156.4"/></clipPath>
<g clip-path="url(#c_d2)">
<path d="M461.21,346.49 L463.08,347.85 L464.97,349.2 L466.87,350.53 L468.8,351.85 L470.74,353.16 L472.7,354.46 L474.68,355.74 L476.67,357.02 L478.67,358.29 L480.68,359.55 L482.71,360.8 L484.75,362.05 L486.79,363.29 L488.84,364.53 L490.9,365.77 L492.97,367.01 L495.04,368.24 L497.11,369.48 L499.19,370.71 L501.27,371.95 L503.34,373.19 L505.42,374.44 L507.49,375.69 L509.56,376.95 L511.63,378.21 L513.69,379.48 L515.74,380.77 L517.79,382.06 L519.82,383.36 L521.85,384.67 L523.87,386 L525.87,387.34 L527.86,388.7 L529.84,390.07 L531.8,391.46 L533.74,392.87 L535.67,394.3 L537.58,395.74 L539.47,397.21 L541.33,398.7 L543.18,400.21 L545,401.74 L546.8,403.3 L548.57,404.89 L550.31,406.5 L552.03,408.14 L553.72,409.81 L555.38,411.51 L557,413.24 L558.6,415 L560.16,416.79 L561.69,418.61 L563.18,420.47 L564.61,422.37 L565.98,424.29 L567.27,426.24 L568.46,428.21 L569.54,430.21 L570.49,432.22 L571.3,434.26 L571.95,436.31 L572.43,438.38 L572.72,440.45 L572.81,442.54 L572.69,444.64 L572.33,446.74 L571.73,448.84 L570.9,450.94 L569.85,453.01 L568.61,455.07 L567.18,457.08 L565.6,459.04 L563.88,460.94 L562.04,462.78 L560.1,464.53 L558.07,466.19 L555.97,467.74 L553.83,469.18 L551.67,470.5 L459.2,470.9 L459.2,346.49 Z" fill="#bfbfbf" stroke="none"/>
<line x1="461.2" y1="468.9" x2="598" y2="312.5" stroke="#111" stroke-width="1" stroke-dasharray="1.05 1.05"/>
<path d="M461.2,344.29 L463.8,345.19 L466.38,346.12 L468.93,347.07 L471.46,348.05 L473.97,349.04 L476.45,350.06 L478.92,351.1 L481.36,352.16 L483.78,353.24 L486.19,354.34 L488.57,355.47 L490.94,356.62 L493.29,357.79 L495.63,358.98 L497.95,360.19 L500.25,361.42 L502.54,362.67 L504.81,363.95 L507.08,365.24 L509.33,366.55 L511.56,367.89 L513.79,369.25 L516.01,370.62 L518.21,372.02 L520.41,373.43 L522.6,374.87 L524.78,376.32 L526.96,377.8 L529.12,379.29 L531.29,380.81 L533.44,382.34 L535.6,383.89 L537.75,385.46 L539.89,387.06 L542.04,388.66 L544.18,390.29 L546.32,391.94 L548.46,393.6 L550.6,395.29 L552.74,396.99 L554.89,398.71 L557.03,400.45 L559.18,402.2 L561.34,403.98 L563.49,405.77 L565.66,407.58 L567.82,409.41 L569.98,411.25 L572.11,413.11 L574.18,414.99 L576.2,416.89 L578.12,418.81 L579.95,420.75 L581.65,422.7 L583.21,424.68 L584.61,426.67 L585.83,428.69 L586.86,430.73 L587.67,432.78 L588.24,434.86 L588.56,436.96 L588.61,439.08 L588.37,441.22 L587.81,443.39 L586.93,445.57 L585.71,447.78 L584.18,449.99 L582.37,452.19 L580.34,454.36 L578.12,456.48 L575.76,458.52 L573.3,460.48 L570.79,462.32 L568.26,464.04 L565.77,465.6 L563.36,467 L561.06,468.21 L558.93,469.22 L557,469.99" fill="none" stroke="#000" stroke-width="1.1"/>
<path d="M461.23,330.99 L462.87,332.3 L464.53,333.6 L466.2,334.91 L467.89,336.21 L469.59,337.52 L471.31,338.83 L473.03,340.14 L474.77,341.46 L476.52,342.77 L478.28,344.09 L480.05,345.41 L481.82,346.74 L483.6,348.07 L485.39,349.4 L487.18,350.74 L488.98,352.08 L490.78,353.43 L492.58,354.78 L494.39,356.14 L496.19,357.5 L498,358.87 L499.81,360.25 L501.61,361.63 L503.41,363.02 L505.21,364.42 L507,365.83 L508.79,367.24 L510.58,368.66 L512.35,370.09 L514.12,371.53 L515.88,372.98 L517.63,374.44 L519.38,375.91 L521.11,377.39 L522.83,378.88 L524.53,380.38 L526.22,381.89 L527.9,383.41 L529.57,384.94 L531.21,386.49 L532.84,388.05 L534.46,389.62 L536.05,391.2 L537.62,392.8 L539.17,394.41 L540.7,396.04 L542.2,397.68 L543.68,399.33 L545.12,401 L546.54,402.69 L547.92,404.39 L549.28,406.11 L550.59,407.85 L551.87,409.6 L553.11,411.37 L554.32,413.17 L555.48,414.98 L556.59,416.81 L557.67,418.66 L558.69,420.53 L559.67,422.42 L560.6,424.33 L561.48,426.26 L562.31,428.22 L563.08,430.2 L563.8,432.2 L564.46,434.22 L565.06,436.27 L565.6,438.34 L566.08,440.44 L566.5,442.56 L566.85,444.71 L567.13,446.89 L567.34,449.09 L567.49,451.31 L567.56,453.57 L567.56,455.85 L567.49,458.16 L567.34,460.5" fill="none" stroke="#000" stroke-width="2.7" stroke-dasharray="15.35 7.43"/>
<path d="M461.21,335.49 L463.57,336.78 L465.93,338.07 L468.29,339.36 L470.64,340.65 L473,341.94 L475.35,343.23 L477.7,344.52 L480.04,345.82 L482.38,347.12 L484.72,348.41 L487.06,349.72 L489.39,351.03 L491.71,352.34 L494.04,353.66 L496.36,354.98 L498.67,356.31 L500.98,357.65 L503.28,359 L505.58,360.35 L507.87,361.71 L510.16,363.09 L512.44,364.47 L514.72,365.86 L516.98,367.27 L519.25,368.69 L521.5,370.12 L523.75,371.56 L525.99,373.02 L528.22,374.49 L530.45,375.98 L532.67,377.48 L534.88,379 L537.08,380.54 L539.27,382.09 L541.46,383.66 L543.63,385.25 L545.8,386.86 L547.96,388.49 L550.11,390.14 L552.25,391.81 L554.37,393.5 L556.49,395.22 L558.6,396.96 L560.7,398.72 L562.78,400.5 L564.86,402.31 L566.93,404.14 L568.98,406 L571.02,407.89 L573.05,409.8 L575.05,411.74 L577.01,413.71 L578.92,415.7 L580.75,417.72 L582.49,419.76 L584.13,421.83 L585.65,423.92 L587.03,426.04 L588.26,428.18 L589.32,430.34 L590.19,432.53 L590.87,434.73 L591.33,436.96 L591.56,439.21 L591.54,441.48 L591.26,443.78 L590.7,446.09 L589.85,448.42 L588.72,450.75 L587.35,453.07 L585.76,455.35 L583.97,457.57 L582,459.72 L579.89,461.78 L577.65,463.72 L575.32,465.54 L572.91,467.2 L570.46,468.69 L567.98,470" fill="none" stroke="#000" stroke-width="3" stroke-linejoin="round"/>
</g>
<clipPath id="c_e1"><rect x="50.4" y="540.5" width="136.8" height="156.4"/></clipPath>
<g clip-path="url(#c_e1)">
<path d="M50.41,574.49 L52.28,575.85 L54.17,577.2 L56.07,578.53 L58,579.85 L59.94,581.16 L61.9,582.46 L63.88,583.74 L65.87,585.02 L67.87,586.29 L69.88,587.55 L71.91,588.8 L73.95,590.05 L75.99,591.29 L78.04,592.53 L80.1,593.77 L82.17,595.01 L84.24,596.24 L86.31,597.48 L88.39,598.71 L90.47,599.95 L92.54,601.19 L94.62,602.44 L96.69,603.69 L98.76,604.95 L100.83,606.21 L102.89,607.48 L104.94,608.77 L106.99,610.06 L109.02,611.36 L111.05,612.67 L113.07,614 L115.07,615.34 L117.06,616.7 L119.04,618.07 L121,619.46 L122.94,620.87 L124.87,622.3 L126.78,623.74 L128.67,625.21 L130.53,626.7 L132.38,628.21 L134.2,629.74 L136,631.3 L137.77,632.89 L139.51,634.5 L141.23,636.14 L142.92,637.81 L144.58,639.51 L146.2,641.24 L147.8,643 L149.36,644.79 L150.89,646.61 L152.38,648.47 L153.81,650.37 L155.18,652.29 L156.47,654.24 L157.66,656.21 L158.74,658.21 L159.69,660.22 L160.5,662.26 L161.15,664.31 L161.63,666.38 L161.92,668.45 L162.01,670.54 L161.89,672.64 L161.53,674.74 L160.93,676.84 L160.1,678.94 L159.05,681.01 L157.81,683.07 L156.38,685.08 L154.8,687.04 L153.08,688.94 L151.24,690.78 L149.3,692.53 L147.27,694.19 L145.17,695.74 L143.03,697.18 L140.87,698.5 L48.4,698.9 L48.4,574.49 Z" fill="#bfbfbf" stroke="none"/>
<line x1="50.4" y1="696.9" x2="187.2" y2="540.5" stroke="#111" stroke-width="1" stroke-dasharray="1.05 1.05"/>
<path d="M50.41,583.99 L52.6,584.81 L54.79,585.65 L56.98,586.5 L59.19,587.37 L61.4,588.26 L63.61,589.17 L65.83,590.09 L68.05,591.03 L70.27,591.98 L72.5,592.96 L74.72,593.95 L76.95,594.96 L79.17,595.99 L81.39,597.03 L83.61,598.1 L85.82,599.18 L88.03,600.28 L90.24,601.4 L92.43,602.54 L94.63,603.7 L96.81,604.88 L98.98,606.08 L101.15,607.29 L103.3,608.53 L105.44,609.79 L107.57,611.06 L109.69,612.36 L111.79,613.68 L113.88,615.02 L115.95,616.37 L118.01,617.75 L120.05,619.15 L122.07,620.57 L124.07,622.02 L126.05,623.48 L128.01,624.96 L129.95,626.47 L131.87,628 L133.77,629.55 L135.64,631.12 L137.48,632.72 L139.3,634.33 L141.1,635.97 L142.86,637.63 L144.6,639.32 L146.31,641.03 L147.99,642.76 L149.64,644.51 L151.25,646.29 L152.84,648.09 L154.38,649.92 L155.84,651.77 L157.2,653.65 L158.43,655.57 L159.49,657.52 L160.35,659.51 L160.98,661.53 L161.35,663.6 L161.45,665.71 L161.29,667.84 L160.88,669.99 L160.23,672.14 L159.34,674.28 L158.23,676.39 L156.9,678.47 L155.37,680.49 L153.65,682.46 L151.75,684.36 L149.72,686.18 L147.57,687.91 L145.33,689.55 L143.04,691.07 L140.71,692.48 L138.37,693.77 L136.05,694.92 L133.77,695.93 L131.57,696.78 L129.47,697.47 L127.5,698" fill="none" stroke="#000" stroke-width="1.1"/>
<path d="M50.42,566 L51.92,567.21 L53.44,568.43 L54.97,569.64 L56.52,570.86 L58.08,572.07 L59.66,573.29 L61.24,574.51 L62.85,575.73 L64.46,576.95 L66.08,578.18 L67.72,579.41 L69.36,580.64 L71.01,581.87 L72.66,583.1 L74.33,584.35 L76,585.59 L77.67,586.84 L79.34,588.09 L81.02,589.35 L82.7,590.61 L84.39,591.88 L86.07,593.16 L87.75,594.44 L89.43,595.73 L91.11,597.03 L92.78,598.33 L94.45,599.64 L96.12,600.96 L97.78,602.28 L99.43,603.62 L101.08,604.96 L102.71,606.31 L104.34,607.68 L105.96,609.05 L107.56,610.43 L109.16,611.82 L110.74,613.22 L112.31,614.64 L113.86,616.06 L115.4,617.5 L116.92,618.95 L118.43,620.41 L119.92,621.88 L121.39,623.37 L122.83,624.87 L124.26,626.38 L125.67,627.91 L127.05,629.45 L128.4,631 L129.73,632.57 L131.02,634.16 L132.27,635.76 L133.5,637.37 L134.68,639 L135.82,640.65 L136.92,642.32 L137.97,644 L138.97,645.7 L139.93,647.42 L140.83,649.15 L141.68,650.91 L142.47,652.68 L143.2,654.47 L143.87,656.28 L144.48,658.12 L145.02,659.97 L145.49,661.84 L145.89,663.73 L146.22,665.64 L146.48,667.58 L146.66,669.54 L146.76,671.51 L146.77,673.52 L146.71,675.54 L146.55,677.59 L146.31,679.66 L145.98,681.75 L145.56,683.87 L145.04,686.01" fill="none" stroke="#000" stroke-width="2.7" stroke-dasharray="16.29 7.88"/>
<path d="M50.41,572.69 L52.58,573.78 L54.75,574.88 L56.93,575.98 L59.12,577.09 L61.32,578.21 L63.52,579.34 L65.72,580.48 L67.93,581.63 L70.14,582.78 L72.35,583.95 L74.56,585.13 L76.78,586.32 L78.99,587.52 L81.2,588.73 L83.41,589.95 L85.62,591.19 L87.83,592.44 L90.03,593.7 L92.23,594.97 L94.42,596.26 L96.6,597.56 L98.78,598.88 L100.95,600.21 L103.12,601.56 L105.27,602.92 L107.41,604.3 L109.55,605.69 L111.67,607.1 L113.78,608.52 L115.87,609.97 L117.95,611.43 L120.02,612.91 L122.08,614.4 L124.11,615.92 L126.13,617.45 L128.14,619.01 L130.12,620.58 L132.09,622.17 L134.03,623.78 L135.96,625.42 L137.86,627.07 L139.74,628.74 L141.6,630.44 L143.44,632.16 L145.25,633.9 L147.04,635.66 L148.8,637.45 L150.53,639.26 L152.24,641.09 L153.92,642.95 L155.57,644.83 L157.19,646.74 L158.75,648.67 L160.23,650.63 L161.62,652.62 L162.88,654.65 L164,656.7 L164.95,658.79 L165.72,660.91 L166.27,663.08 L166.6,665.27 L166.71,667.49 L166.6,669.72 L166.28,671.95 L165.74,674.17 L164.98,676.38 L164.01,678.56 L162.83,680.7 L161.45,682.8 L159.88,684.83 L158.14,686.78 L156.25,688.64 L154.22,690.4 L152.06,692.04 L149.8,693.55 L147.44,694.92 L145.01,696.12 L142.52,697.15 L139.98,698" fill="none" stroke="#000" stroke-width="3" stroke-linejoin="round"/>
</g>
<clipPath id="c_e2"><rect x="187.2" y="540.5" width="136.8" height="156.4"/></clipPath>
<g clip-path="url(#c_e2)">
<path d="M187.21,574.49 L189.08,575.85 L190.97,577.2 L192.87,578.53 L194.8,579.85 L196.74,581.16 L198.7,582.46 L200.68,583.74 L202.67,585.02 L204.67,586.29 L206.68,587.55 L208.71,588.8 L210.75,590.05 L212.79,591.29 L214.84,592.53 L216.9,593.77 L218.97,595.01 L221.04,596.24 L223.11,597.48 L225.19,598.71 L227.27,599.95 L229.34,601.19 L231.42,602.44 L233.49,603.69 L235.56,604.95 L237.63,606.21 L239.69,607.48 L241.74,608.77 L243.79,610.06 L245.82,611.36 L247.85,612.67 L249.87,614 L251.87,615.34 L253.86,616.7 L255.84,618.07 L257.8,619.46 L259.74,620.87 L261.67,622.3 L263.58,623.74 L265.47,625.21 L267.33,626.7 L269.18,628.21 L271,629.74 L272.8,631.3 L274.57,632.89 L276.31,634.5 L278.03,636.14 L279.72,637.81 L281.38,639.51 L283,641.24 L284.6,643 L286.16,644.79 L287.69,646.61 L289.18,648.47 L290.61,650.37 L291.98,652.29 L293.27,654.24 L294.46,656.21 L295.54,658.21 L296.49,660.22 L297.3,662.26 L297.95,664.31 L298.43,666.38 L298.72,668.45 L298.81,670.54 L298.69,672.64 L298.33,674.74 L297.73,676.84 L296.9,678.94 L295.85,681.01 L294.61,683.07 L293.18,685.08 L291.6,687.04 L289.88,688.94 L288.04,690.78 L286.1,692.53 L284.07,694.19 L281.97,695.74 L279.83,697.18 L277.67,698.5 L185.2,698.9 L185.2,574.49 Z" fill="#bfbfbf" stroke="none"/>
<line x1="187.2" y1="696.9" x2="324" y2="540.5" stroke="#111" stroke-width="1" stroke-dasharray="1.05 1.05"/>
<path d="M187.2,586.5 L189.56,587.05 L191.87,587.65 L194.13,588.3 L196.34,588.98 L198.51,589.71 L200.63,590.48 L202.72,591.28 L204.77,592.13 L206.78,593.01 L208.76,593.93 L210.7,594.89 L212.62,595.87 L214.51,596.89 L216.37,597.94 L218.21,599.02 L220.03,600.13 L221.82,601.27 L223.61,602.43 L225.37,603.62 L227.13,604.83 L228.87,606.06 L230.61,607.32 L232.34,608.6 L234.06,609.89 L235.79,611.21 L237.51,612.53 L239.24,613.88 L240.97,615.24 L242.71,616.61 L244.45,618 L246.21,619.39 L247.98,620.8 L249.76,622.21 L251.56,623.63 L253.37,625.06 L255.19,626.5 L257.01,627.95 L258.83,629.4 L260.65,630.88 L262.46,632.36 L264.25,633.86 L266.02,635.37 L267.77,636.89 L269.5,638.44 L271.19,640 L272.85,641.57 L274.47,643.17 L276.04,644.79 L277.56,646.42 L279.04,648.08 L280.45,649.76 L281.81,651.46 L283.09,653.19 L284.31,654.94 L285.46,656.72 L286.5,658.52 L287.42,660.35 L288.16,662.21 L288.7,664.1 L289.02,666.01 L289.12,667.95 L289.02,669.89 L288.73,671.84 L288.25,673.79 L287.6,675.73 L286.78,677.65 L285.81,679.55 L284.7,681.42 L283.45,683.25 L282.08,685.03 L280.59,686.77 L279,688.44 L277.32,690.05 L275.55,691.59 L273.71,693.05 L271.82,694.42 L269.89,695.71 L267.94,696.9 L265.99,698" fill="none" stroke="#000" stroke-width="1.1"/>
<path d="M187.22,573.8 L188.6,574.97 L190.01,576.13 L191.43,577.29 L192.88,578.45 L194.34,579.6 L195.82,580.75 L197.31,581.89 L198.82,583.03 L200.34,584.17 L201.87,585.31 L203.42,586.45 L204.98,587.59 L206.54,588.72 L208.12,589.86 L209.7,591 L211.29,592.13 L212.88,593.27 L214.48,594.42 L216.08,595.56 L217.69,596.71 L219.3,597.86 L220.91,599.01 L222.51,600.17 L224.12,601.33 L225.73,602.49 L227.33,603.67 L228.92,604.85 L230.52,606.03 L232.1,607.22 L233.68,608.42 L235.25,609.63 L236.82,610.84 L238.37,612.06 L239.91,613.29 L241.44,614.53 L242.96,615.78 L244.46,617.05 L245.95,618.32 L247.42,619.6 L248.87,620.89 L250.31,622.2 L251.73,623.52 L253.13,624.85 L254.51,626.2 L255.86,627.55 L257.19,628.93 L258.5,630.31 L259.78,631.71 L261.03,633.13 L262.26,634.56 L263.46,636.01 L264.62,637.48 L265.76,638.96 L266.86,640.46 L267.93,641.98 L268.96,643.51 L269.95,645.06 L270.91,646.64 L271.83,648.23 L272.71,649.84 L273.55,651.47 L274.35,653.12 L275.1,654.79 L275.81,656.49 L276.48,658.2 L277.09,659.94 L277.66,661.7 L278.18,663.48 L278.65,665.28 L279.07,667.11 L279.44,668.97 L279.75,670.85 L280.01,672.75 L280.21,674.68 L280.35,676.63 L280.43,678.61 L280.46,680.61 L280.42,682.65 L280.33,684.71" fill="none" stroke="#000" stroke-width="2.7" stroke-dasharray="15.3 7.41"/>
<path d="M187.2,584.29 L189.31,585.09 L191.41,585.91 L193.49,586.74 L195.56,587.6 L197.61,588.46 L199.66,589.35 L201.69,590.25 L203.7,591.17 L205.71,592.11 L207.7,593.07 L209.68,594.04 L211.65,595.03 L213.61,596.04 L215.55,597.07 L217.48,598.11 L219.4,599.18 L221.31,600.26 L223.21,601.36 L225.1,602.47 L226.97,603.61 L228.84,604.76 L230.69,605.94 L232.54,607.13 L234.37,608.34 L236.19,609.57 L238,610.81 L239.81,612.08 L241.6,613.37 L243.38,614.67 L245.15,616 L246.91,617.34 L248.67,618.7 L250.41,620.08 L252.15,621.48 L253.87,622.9 L255.59,624.35 L257.3,625.81 L258.99,627.29 L260.69,628.78 L262.37,630.3 L264.04,631.84 L265.71,633.4 L267.36,634.98 L269.01,636.58 L270.66,638.2 L272.29,639.84 L273.92,641.51 L275.53,643.19 L277.11,644.89 L278.66,646.6 L280.17,648.34 L281.63,650.09 L283.03,651.86 L284.36,653.64 L285.61,655.44 L286.78,657.25 L287.86,659.08 L288.83,660.92 L289.69,662.77 L290.43,664.63 L291.04,666.5 L291.52,668.38 L291.84,670.27 L292.02,672.17 L292.03,674.07 L291.87,675.99 L291.53,677.9 L291,679.82 L290.28,681.74 L289.38,683.64 L288.3,685.5 L287.05,687.33 L285.61,689.11 L284.01,690.82 L282.23,692.45 L280.29,694 L278.18,695.45 L275.91,696.79 L273.48,698.01" fill="none" stroke="#000" stroke-width="3" stroke-linejoin="round"/>
</g>
<clipPath id="c_f1"><rect x="324.4" y="540.5" width="136.8" height="156.4"/></clipPath>
<g clip-path="url(#c_f1)">
<path d="M324.41,574.49 L326.28,575.85 L328.17,577.2 L330.07,578.53 L332,579.85 L333.94,581.16 L335.9,582.46 L337.88,583.74 L339.87,585.02 L341.87,586.29 L343.88,587.55 L345.91,588.8 L347.95,590.05 L349.99,591.29 L352.04,592.53 L354.1,593.77 L356.17,595.01 L358.24,596.24 L360.31,597.48 L362.39,598.71 L364.47,599.95 L366.54,601.19 L368.62,602.44 L370.69,603.69 L372.76,604.95 L374.83,606.21 L376.89,607.48 L378.94,608.77 L380.99,610.06 L383.02,611.36 L385.05,612.67 L387.07,614 L389.07,615.34 L391.06,616.7 L393.04,618.07 L395,619.46 L396.94,620.87 L398.87,622.3 L400.78,623.74 L402.67,625.21 L404.53,626.7 L406.38,628.21 L408.2,629.74 L410,631.3 L411.77,632.89 L413.51,634.5 L415.23,636.14 L416.92,637.81 L418.58,639.51 L420.2,641.24 L421.8,643 L423.36,644.79 L424.89,646.61 L426.38,648.47 L427.81,650.37 L429.18,652.29 L430.47,654.24 L431.66,656.21 L432.74,658.21 L433.69,660.22 L434.5,662.26 L435.15,664.31 L435.63,666.38 L435.92,668.45 L436.01,670.54 L435.89,672.64 L435.53,674.74 L434.93,676.84 L434.1,678.94 L433.05,681.01 L431.81,683.07 L430.38,685.08 L428.8,687.04 L427.08,688.94 L425.24,690.78 L423.3,692.53 L421.27,694.19 L419.17,695.74 L417.03,697.18 L414.87,698.5 L322.4,698.9 L322.4,574.49 Z" fill="#bfbfbf" stroke="none"/>
<line x1="324.4" y1="696.9" x2="461.2" y2="540.5" stroke="#111" stroke-width="1" stroke-dasharray="1.05 1.05"/>
<path d="M324.4,577.5 L326.66,578.45 L328.91,579.41 L331.16,580.38 L333.39,581.37 L335.62,582.38 L337.84,583.39 L340.05,584.43 L342.26,585.48 L344.45,586.54 L346.64,587.62 L348.82,588.72 L350.99,589.83 L353.15,590.95 L355.3,592.1 L357.45,593.26 L359.58,594.43 L361.71,595.63 L363.83,596.84 L365.93,598.07 L368.04,599.31 L370.13,600.58 L372.21,601.86 L374.28,603.16 L376.35,604.48 L378.4,605.81 L380.45,607.17 L382.48,608.54 L384.51,609.94 L386.53,611.35 L388.54,612.78 L390.54,614.23 L392.53,615.7 L394.51,617.2 L396.48,618.71 L398.44,620.24 L400.39,621.79 L402.33,623.37 L404.26,624.96 L406.18,626.58 L408.09,628.22 L409.99,629.88 L411.88,631.56 L413.77,633.27 L415.64,634.99 L417.5,636.74 L419.35,638.52 L421.18,640.31 L422.97,642.13 L424.72,643.96 L426.38,645.82 L427.95,647.7 L429.41,649.59 L430.74,651.51 L431.92,653.44 L432.93,655.38 L433.75,657.34 L434.36,659.32 L434.74,661.31 L434.89,663.31 L434.81,665.32 L434.51,667.32 L433.98,669.32 L433.24,671.31 L432.29,673.28 L431.14,675.23 L429.79,677.15 L428.25,679.03 L426.57,680.89 L424.74,682.7 L422.81,684.47 L420.78,686.2 L418.68,687.88 L416.54,689.5 L414.38,691.07 L412.21,692.59 L410.07,694.04 L407.97,695.43 L405.93,696.75 L403.99,697.99" fill="none" stroke="#000" stroke-width="1.1"/>
<path d="M324.42,563.49 L325.93,564.7 L327.45,565.91 L328.99,567.11 L330.54,568.32 L332.11,569.53 L333.68,570.74 L335.28,571.95 L336.88,573.17 L338.49,574.39 L340.11,575.61 L341.75,576.83 L343.39,578.06 L345.03,579.3 L346.68,580.53 L348.34,581.77 L350,583.02 L351.67,584.27 L353.34,585.52 L355.01,586.79 L356.68,588.05 L358.35,589.33 L360.02,590.6 L361.69,591.89 L363.35,593.18 L365.02,594.48 L366.67,595.79 L368.33,597.11 L369.97,598.43 L371.61,599.76 L373.24,601.1 L374.87,602.45 L376.48,603.81 L378.08,605.18 L379.68,606.56 L381.26,607.94 L382.82,609.34 L384.37,610.75 L385.91,612.17 L387.43,613.6 L388.94,615.04 L390.43,616.5 L391.9,617.96 L393.35,619.44 L394.78,620.93 L396.19,622.43 L397.58,623.95 L398.94,625.48 L400.28,627.02 L401.59,628.58 L402.88,630.15 L404.13,631.74 L405.36,633.34 L406.55,634.96 L407.71,636.59 L408.83,638.24 L409.92,639.91 L410.96,641.59 L411.97,643.29 L412.93,645 L413.85,646.74 L414.73,648.49 L415.56,650.26 L416.34,652.05 L417.07,653.86 L417.75,655.69 L418.38,657.54 L418.95,659.4 L419.47,661.29 L419.93,663.2 L420.33,665.13 L420.67,667.08 L420.95,669.06 L421.16,671.05 L421.31,673.07 L421.4,675.11 L421.41,677.17 L421.36,679.26 L421.24,681.37 L421.04,683.5" fill="none" stroke="#000" stroke-width="2.7" stroke-dasharray="16.24 7.86"/>
<path d="M324.42,571.08 L326.47,572.3 L328.53,573.51 L330.6,574.73 L332.67,575.94 L334.76,577.16 L336.85,578.37 L338.95,579.58 L341.05,580.8 L343.16,582.02 L345.27,583.24 L347.39,584.46 L349.5,585.69 L351.62,586.93 L353.74,588.16 L355.86,589.41 L357.98,590.66 L360.1,591.91 L362.21,593.18 L364.33,594.45 L366.44,595.73 L368.54,597.02 L370.64,598.32 L372.73,599.63 L374.82,600.95 L376.9,602.29 L378.97,603.63 L381.04,604.99 L383.09,606.36 L385.13,607.75 L387.16,609.15 L389.18,610.57 L391.19,612 L393.19,613.45 L395.17,614.92 L397.13,616.4 L399.08,617.9 L401.02,619.42 L402.93,620.97 L404.83,622.53 L406.71,624.11 L408.57,625.71 L410.41,627.34 L412.24,628.98 L414.03,630.65 L415.81,632.35 L417.56,634.07 L419.29,635.81 L421,637.58 L422.68,639.38 L424.34,641.2 L425.96,643.05 L427.55,644.92 L429.08,646.83 L430.55,648.76 L431.93,650.71 L433.21,652.69 L434.37,654.7 L435.4,656.73 L436.28,658.79 L437,660.86 L437.54,662.96 L437.88,665.09 L438.02,667.23 L437.93,669.4 L437.6,671.59 L437.01,673.8 L436.18,676.02 L435.13,678.23 L433.88,680.42 L432.45,682.58 L430.87,684.69 L429.14,686.73 L427.3,688.69 L425.36,690.57 L423.35,692.33 L421.29,693.97 L419.19,695.47 L417.08,696.82 L414.99,698" fill="none" stroke="#000" stroke-width="3" stroke-linejoin="round"/>
</g>
<clipPath id="c_f2"><rect x="461.2" y="540.5" width="136.8" height="156.4"/></clipPath>
<g clip-path="url(#c_f2)">
<path d="M461.21,574.49 L463.08,575.85 L464.97,577.2 L466.87,578.53 L468.8,579.85 L470.74,581.16 L472.7,582.46 L474.68,583.74 L476.67,585.02 L478.67,586.29 L480.68,587.55 L482.71,588.8 L484.75,590.05 L486.79,591.29 L488.84,592.53 L490.9,593.77 L492.97,595.01 L495.04,596.24 L497.11,597.48 L499.19,598.71 L501.27,599.95 L503.34,601.19 L505.42,602.44 L507.49,603.69 L509.56,604.95 L511.63,606.21 L513.69,607.48 L515.74,608.77 L517.79,610.06 L519.82,611.36 L521.85,612.67 L523.87,614 L525.87,615.34 L527.86,616.7 L529.84,618.07 L531.8,619.46 L533.74,620.87 L535.67,622.3 L537.58,623.74 L539.47,625.21 L541.33,626.7 L543.18,628.21 L545,629.74 L546.8,631.3 L548.57,632.89 L550.31,634.5 L552.03,636.14 L553.72,637.81 L555.38,639.51 L557,641.24 L558.6,643 L560.16,644.79 L561.69,646.61 L563.18,648.47 L564.61,650.37 L565.98,652.29 L567.27,654.24 L568.46,656.21 L569.54,658.21 L570.49,660.22 L571.3,662.26 L571.95,664.31 L572.43,666.38 L572.72,668.45 L572.81,670.54 L572.69,672.64 L572.33,674.74 L571.73,676.84 L570.9,678.94 L569.85,681.01 L568.61,683.07 L567.18,685.08 L565.6,687.04 L563.88,688.94 L562.04,690.78 L560.1,692.53 L558.07,694.19 L555.97,695.74 L553.83,697.18 L551.67,698.5 L459.2,698.9 L459.2,574.49 Z" fill="#bfbfbf" stroke="none"/>
<line x1="461.2" y1="696.9" x2="598" y2="540.5" stroke="#111" stroke-width="1" stroke-dasharray="1.05 1.05"/>
<path d="M461.21,572.49 L463.45,573.52 L465.68,574.56 L467.92,575.61 L470.15,576.68 L472.37,577.77 L474.6,578.87 L476.82,579.99 L479.03,581.12 L481.24,582.28 L483.44,583.44 L485.64,584.63 L487.83,585.83 L490.02,587.05 L492.2,588.28 L494.37,589.53 L496.54,590.8 L498.7,592.08 L500.84,593.38 L502.99,594.7 L505.12,596.03 L507.24,597.39 L509.36,598.76 L511.46,600.14 L513.56,601.55 L515.64,602.97 L517.72,604.41 L519.78,605.86 L521.83,607.34 L523.87,608.83 L525.9,610.34 L527.91,611.86 L529.91,613.41 L531.9,614.97 L533.88,616.55 L535.84,618.15 L537.79,619.76 L539.72,621.4 L541.64,623.05 L543.54,624.72 L545.43,626.41 L547.3,628.12 L549.16,629.85 L551,631.59 L552.82,633.36 L554.63,635.14 L556.42,636.94 L558.19,638.76 L559.94,640.6 L561.67,642.46 L563.37,644.34 L565,646.23 L566.56,648.15 L568,650.08 L569.3,652.03 L570.45,654 L571.4,655.98 L572.14,657.99 L572.64,660 L572.88,662.04 L572.82,664.09 L572.47,666.15 L571.85,668.22 L570.97,670.29 L569.86,672.35 L568.54,674.4 L567.03,676.42 L565.35,678.42 L563.51,680.38 L561.55,682.29 L559.48,684.16 L557.32,685.97 L555.11,687.73 L552.87,689.41 L550.63,691.04 L548.42,692.59 L546.27,694.06 L544.22,695.46 L542.28,696.77 L540.49,697.99" fill="none" stroke="#000" stroke-width="1.1"/>
<path d="M461.2,563.8 L472,570 L482.3,576.5" fill="none" stroke="#000" stroke-width="1.1"/>
<path d="M461.22,560.8 L462.96,562.09 L464.7,563.38 L466.45,564.67 L468.2,565.97 L469.95,567.28 L471.7,568.59 L473.45,569.9 L475.2,571.23 L476.95,572.56 L478.7,573.89 L480.45,575.24 L482.2,576.59 L483.95,577.94 L485.7,579.31 L487.44,580.68 L489.18,582.07 L490.92,583.46 L492.65,584.86 L494.39,586.26 L496.12,587.68 L497.84,589.11 L499.56,590.55 L501.28,591.99 L502.99,593.45 L504.7,594.92 L506.4,596.39 L508.09,597.88 L509.78,599.38 L511.46,600.9 L513.14,602.42 L514.8,603.96 L516.46,605.5 L518.12,607.06 L519.76,608.64 L521.4,610.22 L523.02,611.82 L524.64,613.43 L526.25,615.06 L527.85,616.7 L529.44,618.36 L531.02,620.03 L532.59,621.71 L534.14,623.41 L535.68,625.12 L537.19,626.85 L538.68,628.59 L540.15,630.35 L541.58,632.12 L542.98,633.91 L544.34,635.71 L545.65,637.53 L546.92,639.36 L548.14,641.2 L549.31,643.06 L550.43,644.93 L551.48,646.82 L552.47,648.72 L553.39,650.63 L554.24,652.56 L555.02,654.5 L555.72,656.46 L556.34,658.43 L556.88,660.42 L557.32,662.41 L557.68,664.43 L557.94,666.45 L558.1,668.49 L558.16,670.54 L558.11,672.61 L557.95,674.69 L557.68,676.78 L557.3,678.89 L556.79,681.01 L556.16,683.15 L555.4,685.29 L554.51,687.45 L553.49,689.63 L552.33,691.81 L551.02,694.01" fill="none" stroke="#000" stroke-width="2.7" stroke-dasharray="15.39 7.45"/>
<path d="M461.21,567.29 L463.44,568.42 L465.66,569.57 L467.87,570.73 L470.08,571.9 L472.28,573.09 L474.47,574.29 L476.66,575.5 L478.83,576.73 L481.01,577.96 L483.17,579.22 L485.32,580.48 L487.47,581.76 L489.61,583.05 L491.75,584.36 L493.87,585.68 L495.99,587.01 L498.1,588.36 L500.2,589.72 L502.3,591.09 L504.38,592.48 L506.46,593.88 L508.53,595.3 L510.6,596.73 L512.65,598.18 L514.69,599.64 L516.73,601.11 L518.76,602.6 L520.78,604.11 L522.79,605.63 L524.79,607.16 L526.79,608.71 L528.77,610.27 L530.75,611.85 L532.72,613.44 L534.67,615.05 L536.62,616.68 L538.56,618.32 L540.5,619.97 L542.42,621.64 L544.33,623.33 L546.23,625.03 L548.13,626.74 L550.01,628.48 L551.89,630.23 L553.75,631.99 L555.61,633.77 L557.45,635.57 L559.29,637.38 L561.11,639.21 L562.9,641.06 L564.66,642.92 L566.35,644.81 L567.98,646.71 L569.51,648.63 L570.95,650.57 L572.27,652.54 L573.46,654.52 L574.5,656.53 L575.39,658.57 L576.09,660.62 L576.61,662.7 L576.92,664.81 L577.02,666.95 L576.87,669.11 L576.48,671.3 L575.83,673.51 L574.93,675.75 L573.8,677.98 L572.47,680.19 L570.94,682.38 L569.26,684.52 L567.43,686.59 L565.49,688.59 L563.44,690.49 L561.32,692.27 L559.14,693.94 L556.92,695.45 L554.7,696.81 L552.48,698" fill="none" stroke="#000" stroke-width="3" stroke-linejoin="round"/>
</g>
<clipPath id="c_g1"><rect x="50.4" y="767.8" width="136.8" height="156.4"/></clipPath>
<g clip-path="url(#c_g1)">
<path d="M50.41,801.79 L52.28,803.15 L54.17,804.5 L56.07,805.83 L58,807.15 L59.94,808.46 L61.9,809.76 L63.88,811.04 L65.87,812.32 L67.87,813.59 L69.88,814.85 L71.91,816.1 L73.95,817.35 L75.99,818.59 L78.04,819.83 L80.1,821.07 L82.17,822.31 L84.24,823.54 L86.31,824.78 L88.39,826.01 L90.47,827.25 L92.54,828.49 L94.62,829.74 L96.69,830.99 L98.76,832.25 L100.83,833.51 L102.89,834.78 L104.94,836.07 L106.99,837.36 L109.02,838.66 L111.05,839.97 L113.07,841.3 L115.07,842.64 L117.06,844 L119.04,845.37 L121,846.76 L122.94,848.17 L124.87,849.6 L126.78,851.04 L128.67,852.51 L130.53,854 L132.38,855.51 L134.2,857.04 L136,858.6 L137.77,860.19 L139.51,861.8 L141.23,863.44 L142.92,865.11 L144.58,866.81 L146.2,868.54 L147.8,870.3 L149.36,872.09 L150.89,873.91 L152.38,875.77 L153.81,877.67 L155.18,879.59 L156.47,881.54 L157.66,883.51 L158.74,885.51 L159.69,887.52 L160.5,889.56 L161.15,891.61 L161.63,893.68 L161.92,895.75 L162.01,897.84 L161.89,899.94 L161.53,902.04 L160.93,904.14 L160.1,906.24 L159.05,908.31 L157.81,910.37 L156.38,912.38 L154.8,914.34 L153.08,916.24 L151.24,918.08 L149.3,919.83 L147.27,921.49 L145.17,923.04 L143.03,924.48 L140.87,925.8 L48.4,926.2 L48.4,801.79 Z" fill="#bfbfbf" stroke="none"/>
<line x1="50.4" y1="924.2" x2="187.2" y2="767.8" stroke="#111" stroke-width="1" stroke-dasharray="1.05 1.05"/>
<path d="M50.39,810.99 L52.72,811.79 L55.02,812.6 L57.29,813.43 L59.53,814.28 L61.74,815.15 L63.93,816.03 L66.09,816.94 L68.23,817.86 L70.35,818.81 L72.44,819.77 L74.52,820.76 L76.57,821.76 L78.61,822.78 L80.63,823.82 L82.63,824.88 L84.61,825.96 L86.58,827.06 L88.54,828.17 L90.49,829.31 L92.42,830.47 L94.34,831.64 L96.26,832.84 L98.16,834.06 L100.06,835.29 L101.95,836.54 L103.83,837.82 L105.71,839.11 L107.59,840.43 L109.46,841.76 L111.33,843.11 L113.21,844.48 L115.08,845.88 L116.95,847.29 L118.83,848.72 L120.71,850.17 L122.59,851.64 L124.48,853.13 L126.38,854.65 L128.28,856.18 L130.19,857.73 L132.11,859.3 L134.05,860.89 L135.99,862.51 L137.92,864.14 L139.85,865.79 L141.74,867.46 L143.59,869.14 L145.39,870.85 L147.12,872.57 L148.78,874.31 L150.34,876.06 L151.79,877.83 L153.13,879.61 L154.34,881.41 L155.4,883.22 L156.31,885.04 L157.04,886.88 L157.6,888.73 L157.96,890.59 L158.12,892.46 L158.05,894.34 L157.75,896.23 L157.21,898.13 L156.43,900.03 L155.43,901.94 L154.25,903.83 L152.88,905.72 L151.37,907.58 L149.73,909.42 L147.98,911.22 L146.15,912.99 L144.25,914.71 L142.31,916.38 L140.35,918 L138.39,919.55 L136.45,921.03 L134.56,922.44 L132.73,923.76 L130.99,925" fill="none" stroke="#000" stroke-width="1.1"/>
<path d="M159.5,900 L145,914 L136.5,925" fill="none" stroke="#000" stroke-width="1.1"/>
<path d="M50.42,793.5 L51.84,794.75 L53.28,796 L54.74,797.25 L56.23,798.49 L57.74,799.73 L59.27,800.96 L60.82,802.2 L62.39,803.43 L63.97,804.66 L65.57,805.9 L67.18,807.13 L68.81,808.36 L70.45,809.59 L72.1,810.83 L73.76,812.06 L75.43,813.3 L77.1,814.54 L78.78,815.78 L80.47,817.03 L82.16,818.28 L83.85,819.53 L85.54,820.79 L87.24,822.05 L88.93,823.32 L90.62,824.59 L92.31,825.87 L93.99,827.15 L95.67,828.44 L97.34,829.74 L99,831.05 L100.65,832.36 L102.3,833.69 L103.93,835.02 L105.55,836.36 L107.15,837.71 L108.74,839.07 L110.31,840.45 L111.87,841.83 L113.4,843.22 L114.92,844.63 L116.42,846.05 L117.89,847.48 L119.34,848.92 L120.77,850.38 L122.17,851.85 L123.54,853.33 L124.88,854.83 L126.2,856.35 L127.49,857.88 L128.74,859.42 L129.96,860.99 L131.15,862.56 L132.3,864.16 L133.41,865.77 L134.49,867.41 L135.53,869.06 L136.53,870.72 L137.49,872.41 L138.4,874.12 L139.28,875.85 L140.1,877.59 L140.89,879.36 L141.62,881.15 L142.31,882.96 L142.94,884.8 L143.53,886.65 L144.07,888.53 L144.55,890.43 L144.98,892.36 L145.35,894.31 L145.67,896.28 L145.93,898.28 L146.13,900.31 L146.27,902.36 L146.35,904.43 L146.36,906.54 L146.32,908.67 L146.21,910.82 L146.03,913.01" fill="none" stroke="#000" stroke-width="2.7" stroke-dasharray="16.17 7.82"/>
<path d="M50.41,803.39 L52.49,804.35 L54.57,805.32 L56.65,806.3 L58.72,807.3 L60.79,808.32 L62.85,809.35 L64.91,810.39 L66.96,811.45 L69.01,812.53 L71.05,813.62 L73.08,814.73 L75.11,815.85 L77.13,816.99 L79.14,818.15 L81.15,819.32 L83.15,820.5 L85.14,821.7 L87.12,822.92 L89.09,824.15 L91.06,825.4 L93.02,826.67 L94.97,827.95 L96.91,829.24 L98.84,830.55 L100.76,831.88 L102.67,833.22 L104.57,834.58 L106.46,835.95 L108.35,837.34 L110.22,838.75 L112.07,840.17 L113.92,841.61 L115.76,843.06 L117.58,844.53 L119.4,846.01 L121.2,847.51 L122.99,849.03 L124.76,850.56 L126.52,852.11 L128.27,853.67 L130.01,855.25 L131.73,856.85 L133.44,858.46 L135.14,860.09 L136.82,861.73 L138.49,863.39 L140.14,865.07 L141.77,866.76 L143.4,868.47 L145,870.19 L146.59,871.93 L148.15,873.69 L149.68,875.46 L151.15,877.25 L152.56,879.06 L153.89,880.89 L155.13,882.73 L156.26,884.59 L157.28,886.47 L158.17,888.37 L158.91,890.29 L159.5,892.23 L159.92,894.19 L160.16,896.17 L160.2,898.18 L160.03,900.2 L159.65,902.24 L159.03,904.31 L158.2,906.38 L157.18,908.46 L155.97,910.51 L154.6,912.54 L153.09,914.54 L151.46,916.48 L149.71,918.36 L147.87,920.16 L145.96,921.88 L143.99,923.5 L141.98,925.01" fill="none" stroke="#000" stroke-width="3" stroke-linejoin="round"/>
</g>
<clipPath id="c_g2"><rect x="187.2" y="767.8" width="136.8" height="156.4"/></clipPath>
<g clip-path="url(#c_g2)">
<path d="M187.21,801.79 L189.08,803.15 L190.97,804.5 L192.87,805.83 L194.8,807.15 L196.74,808.46 L198.7,809.76 L200.68,811.04 L202.67,812.32 L204.67,813.59 L206.68,814.85 L208.71,816.1 L210.75,817.35 L212.79,818.59 L214.84,819.83 L216.9,821.07 L218.97,822.31 L221.04,823.54 L223.11,824.78 L225.19,826.01 L227.27,827.25 L229.34,828.49 L231.42,829.74 L233.49,830.99 L235.56,832.25 L237.63,833.51 L239.69,834.78 L241.74,836.07 L243.79,837.36 L245.82,838.66 L247.85,839.97 L249.87,841.3 L251.87,842.64 L253.86,844 L255.84,845.37 L257.8,846.76 L259.74,848.17 L261.67,849.6 L263.58,851.04 L265.47,852.51 L267.33,854 L269.18,855.51 L271,857.04 L272.8,858.6 L274.57,860.19 L276.31,861.8 L278.03,863.44 L279.72,865.11 L281.38,866.81 L283,868.54 L284.6,870.3 L286.16,872.09 L287.69,873.91 L289.18,875.77 L290.61,877.67 L291.98,879.59 L293.27,881.54 L294.46,883.51 L295.54,885.51 L296.49,887.52 L297.3,889.56 L297.95,891.61 L298.43,893.68 L298.72,895.75 L298.81,897.84 L298.69,899.94 L298.33,902.04 L297.73,904.14 L296.9,906.24 L295.85,908.31 L294.61,910.37 L293.18,912.38 L291.6,914.34 L289.88,916.24 L288.04,918.08 L286.1,919.83 L284.07,921.49 L281.97,923.04 L279.83,924.48 L277.67,925.8 L185.2,926.2 L185.2,801.79 Z" fill="#bfbfbf" stroke="none"/>
<line x1="187.2" y1="924.2" x2="324" y2="767.8" stroke="#111" stroke-width="1" stroke-dasharray="1.05 1.05"/>
<path d="M187.21,805.69 L189.39,806.57 L191.58,807.46 L193.76,808.38 L195.94,809.31 L198.12,810.26 L200.29,811.23 L202.47,812.22 L204.63,813.23 L206.8,814.26 L208.96,815.31 L211.11,816.38 L213.26,817.46 L215.4,818.57 L217.53,819.69 L219.66,820.84 L221.78,822 L223.89,823.19 L226,824.39 L228.09,825.61 L230.18,826.86 L232.25,828.12 L234.32,829.4 L236.37,830.7 L238.42,832.02 L240.45,833.36 L242.47,834.72 L244.48,836.11 L246.47,837.51 L248.45,838.93 L250.42,840.37 L252.38,841.83 L254.31,843.3 L256.24,844.8 L258.15,846.32 L260.04,847.86 L261.92,849.42 L263.77,851 L265.62,852.6 L267.44,854.22 L269.25,855.86 L271.03,857.52 L272.8,859.2 L274.55,860.9 L276.28,862.62 L277.99,864.37 L279.67,866.13 L281.34,867.91 L282.98,869.71 L284.61,871.53 L286.2,873.38 L287.78,875.24 L289.33,877.12 L290.86,879.03 L292.33,880.95 L293.71,882.88 L294.97,884.83 L296.07,886.78 L296.97,888.73 L297.64,890.68 L298.04,892.62 L298.13,894.56 L297.89,896.48 L297.29,898.38 L296.36,900.26 L295.13,902.12 L293.63,903.94 L291.88,905.73 L289.91,907.47 L287.78,909.18 L285.52,910.85 L283.2,912.5 L280.87,914.11 L278.56,915.71 L276.34,917.28 L274.26,918.84 L272.36,920.39 L270.7,921.93 L269.33,923.46 L268.3,925" fill="none" stroke="#000" stroke-width="1.1"/>
<path d="M299,899 L285,912 L273,925" fill="none" stroke="#000" stroke-width="1.1"/>
<path d="M187.22,790.5 L188.75,791.78 L190.3,793.05 L191.88,794.33 L193.47,795.61 L195.09,796.88 L196.72,798.16 L198.37,799.44 L200.04,800.72 L201.72,802.01 L203.42,803.3 L205.12,804.59 L206.84,805.88 L208.57,807.18 L210.31,808.48 L212.05,809.79 L213.8,811.1 L215.56,812.42 L217.32,813.74 L219.09,815.07 L220.85,816.41 L222.62,817.75 L224.39,819.1 L226.15,820.46 L227.91,821.82 L229.67,823.2 L231.43,824.58 L233.17,825.97 L234.91,827.37 L236.64,828.78 L238.37,830.2 L240.08,831.64 L241.77,833.08 L243.46,834.53 L245.13,836 L246.78,837.47 L248.42,838.96 L250.04,840.46 L251.64,841.98 L253.22,843.51 L254.78,845.05 L256.32,846.6 L257.83,848.17 L259.32,849.76 L260.78,851.36 L262.22,852.97 L263.62,854.61 L265,856.25 L266.35,857.92 L267.66,859.6 L268.94,861.3 L270.19,863.01 L271.4,864.75 L272.57,866.5 L273.7,868.27 L274.78,870.06 L275.82,871.86 L276.81,873.69 L277.74,875.53 L278.62,877.38 L279.44,879.26 L280.2,881.15 L280.89,883.06 L281.52,884.98 L282.07,886.93 L282.56,888.89 L282.96,890.86 L283.29,892.85 L283.54,894.86 L283.7,896.89 L283.77,898.93 L283.76,900.99 L283.65,903.06 L283.44,905.15 L283.14,907.26 L282.73,909.38 L282.22,911.51 L281.6,913.67 L280.88,915.83 L280.04,918.02" fill="none" stroke="#000" stroke-width="2.7" stroke-dasharray="14.88 7.2"/>
<path d="M187.21,799.79 L189.32,800.98 L191.42,802.17 L193.53,803.36 L195.63,804.57 L197.72,805.78 L199.81,806.99 L201.89,808.22 L203.97,809.45 L206.04,810.68 L208.11,811.93 L210.17,813.18 L212.23,814.44 L214.28,815.71 L216.33,816.98 L218.37,818.27 L220.4,819.56 L222.43,820.86 L224.45,822.17 L226.47,823.49 L228.47,824.82 L230.48,826.16 L232.47,827.51 L234.46,828.87 L236.45,830.24 L238.42,831.62 L240.39,833.01 L242.35,834.41 L244.31,835.82 L246.26,837.25 L248.2,838.68 L250.13,840.13 L252.05,841.58 L253.97,843.05 L255.88,844.54 L257.78,846.03 L259.68,847.54 L261.56,849.06 L263.44,850.59 L265.31,852.14 L267.17,853.69 L269.02,855.27 L270.87,856.85 L272.7,858.45 L274.53,860.07 L276.35,861.7 L278.15,863.34 L279.95,865 L281.74,866.67 L283.53,868.36 L285.3,870.07 L287.06,871.79 L288.81,873.52 L290.54,875.27 L292.21,877.05 L293.82,878.84 L295.33,880.66 L296.72,882.51 L297.96,884.38 L299.04,886.29 L299.93,888.23 L300.6,890.21 L301.03,892.23 L301.2,894.29 L301.08,896.4 L300.66,898.55 L299.9,900.75 L298.8,902.99 L297.4,905.27 L295.77,907.54 L293.96,909.81 L292.02,912.03 L290.01,914.2 L287.98,916.29 L285.99,918.28 L284.09,920.15 L282.34,921.88 L280.79,923.44 L279.49,924.82 L278.51,925.99" fill="none" stroke="#000" stroke-width="3" stroke-linejoin="round"/>
</g>
<clipPath id="c_h1"><rect x="324.4" y="767.8" width="136.8" height="156.4"/></clipPath>
<g clip-path="url(#c_h1)">
<path d="M324.41,801.79 L326.28,803.15 L328.17,804.5 L330.07,805.83 L332,807.15 L333.94,808.46 L335.9,809.76 L337.88,811.04 L339.87,812.32 L341.87,813.59 L343.88,814.85 L345.91,816.1 L347.95,817.35 L349.99,818.59 L352.04,819.83 L354.1,821.07 L356.17,822.31 L358.24,823.54 L360.31,824.78 L362.39,826.01 L364.47,827.25 L366.54,828.49 L368.62,829.74 L370.69,830.99 L372.76,832.25 L374.83,833.51 L376.89,834.78 L378.94,836.07 L380.99,837.36 L383.02,838.66 L385.05,839.97 L387.07,841.3 L389.07,842.64 L391.06,844 L393.04,845.37 L395,846.76 L396.94,848.17 L398.87,849.6 L400.78,851.04 L402.67,852.51 L404.53,854 L406.38,855.51 L408.2,857.04 L410,858.6 L411.77,860.19 L413.51,861.8 L415.23,863.44 L416.92,865.11 L418.58,866.81 L420.2,868.54 L421.8,870.3 L423.36,872.09 L424.89,873.91 L426.38,875.77 L427.81,877.67 L429.18,879.59 L430.47,881.54 L431.66,883.51 L432.74,885.51 L433.69,887.52 L434.5,889.56 L435.15,891.61 L435.63,893.68 L435.92,895.75 L436.01,897.84 L435.89,899.94 L435.53,902.04 L434.93,904.14 L434.1,906.24 L433.05,908.31 L431.81,910.37 L430.38,912.38 L428.8,914.34 L427.08,916.24 L425.24,918.08 L423.3,919.83 L421.27,921.49 L419.17,923.04 L417.03,924.48 L414.87,925.8 L322.4,926.2 L322.4,801.79 Z" fill="#bfbfbf" stroke="none"/>
<line x1="324.4" y1="924.2" x2="461.2" y2="767.8" stroke="#111" stroke-width="1" stroke-dasharray="1.05 1.05"/>
<path d="M324.39,794.7 L327.18,795.62 L329.91,796.56 L332.57,797.54 L335.18,798.54 L337.74,799.57 L340.24,800.62 L342.71,801.7 L345.13,802.79 L347.52,803.91 L349.88,805.05 L352.21,806.21 L354.52,807.39 L356.81,808.58 L359.09,809.8 L361.35,811.02 L363.61,812.26 L365.87,813.52 L368.13,814.79 L370.4,816.07 L372.68,817.35 L374.98,818.65 L377.29,819.96 L379.63,821.28 L382,822.6 L384.4,823.93 L386.84,825.26 L389.32,826.59 L391.83,827.93 L394.37,829.28 L396.94,830.64 L399.52,832.02 L402.1,833.41 L404.67,834.82 L407.23,836.25 L409.77,837.71 L412.27,839.2 L414.74,840.72 L417.16,842.28 L419.52,843.87 L421.81,845.51 L424.03,847.19 L426.17,848.92 L428.21,850.7 L430.16,852.53 L431.99,854.42 L433.71,856.36 L435.3,858.38 L436.76,860.45 L438.07,862.6 L439.23,864.81 L440.23,867.1 L441.06,869.45 L441.73,871.85 L442.23,874.29 L442.56,876.77 L442.71,879.26 L442.69,881.77 L442.48,884.27 L442.09,886.76 L441.51,889.24 L440.74,891.68 L439.78,894.08 L438.62,896.43 L437.26,898.72 L435.7,900.93 L433.97,903.08 L432.08,905.16 L430.06,907.17 L427.92,909.11 L425.69,910.99 L423.4,912.8 L421.05,914.55 L418.67,916.23 L416.29,917.84 L413.91,919.4 L411.58,920.89 L409.3,922.32 L407.1,923.68 L404.99,924.99" fill="none" stroke="#000" stroke-width="1.1"/>
<path d="M324.42,784.7 L326.04,786.1 L327.66,787.5 L329.31,788.9 L330.97,790.29 L332.64,791.69 L334.33,793.09 L336.02,794.48 L337.73,795.88 L339.45,797.28 L341.17,798.68 L342.91,800.08 L344.65,801.49 L346.4,802.9 L348.16,804.31 L349.92,805.72 L351.69,807.14 L353.45,808.57 L355.23,809.99 L357,811.43 L358.78,812.87 L360.55,814.31 L362.33,815.77 L364.1,817.23 L365.87,818.69 L367.64,820.17 L369.41,821.65 L371.17,823.14 L372.92,824.64 L374.67,826.15 L376.42,827.67 L378.15,829.2 L379.88,830.74 L381.59,832.29 L383.3,833.86 L385,835.43 L386.68,837.02 L388.35,838.62 L390.01,840.23 L391.65,841.86 L393.28,843.5 L394.89,845.15 L396.49,846.82 L398.06,848.51 L399.61,850.2 L401.14,851.92 L402.64,853.65 L404.1,855.39 L405.54,857.15 L406.93,858.93 L408.29,860.72 L409.6,862.52 L410.86,864.34 L412.08,866.18 L413.24,868.03 L414.35,869.9 L415.4,871.79 L416.39,873.69 L417.31,875.61 L418.17,877.54 L418.96,879.49 L419.68,881.46 L420.32,883.44 L420.88,885.44 L421.36,887.46 L421.76,889.5 L422.07,891.55 L422.29,893.62 L422.42,895.7 L422.45,897.8 L422.38,899.93 L422.21,902.06 L421.93,904.22 L421.55,906.39 L421.06,908.59 L420.45,910.79 L419.73,913.02 L418.89,915.27 L417.92,917.53 L416.83,919.82" fill="none" stroke="#000" stroke-width="2.7" stroke-dasharray="15.52 7.51"/>
<path d="M324.42,777.99 L327.14,779.31 L329.88,780.64 L332.64,781.97 L335.41,783.31 L338.19,784.65 L340.97,786 L343.77,787.36 L346.57,788.72 L349.38,790.1 L352.19,791.48 L355,792.88 L357.82,794.29 L360.63,795.71 L363.45,797.14 L366.26,798.59 L369.06,800.06 L371.87,801.54 L374.66,803.04 L377.44,804.55 L380.22,806.08 L382.99,807.64 L385.74,809.21 L388.48,810.81 L391.2,812.43 L393.91,814.07 L396.6,815.73 L399.27,817.42 L401.92,819.14 L404.55,820.88 L407.16,822.65 L409.74,824.44 L412.29,826.27 L414.82,828.13 L417.32,830.01 L419.79,831.93 L422.23,833.88 L424.64,835.86 L427.01,837.88 L429.35,839.94 L431.65,842.02 L433.91,844.15 L436.14,846.31 L438.32,848.51 L440.46,850.76 L442.56,853.04 L444.61,855.36 L446.62,857.72 L448.57,860.13 L450.47,862.58 L452.25,865.07 L453.88,867.61 L455.31,870.2 L456.48,872.84 L457.35,875.52 L457.87,878.25 L458,881.04 L457.68,883.88 L456.88,886.77 L455.63,889.69 L454.01,892.62 L452.08,895.51 L449.94,898.36 L447.65,901.11 L445.3,903.75 L442.95,906.24 L440.6,908.58 L438.25,910.77 L435.88,912.81 L433.49,914.69 L431.04,916.41 L428.55,917.97 L425.98,919.36 L423.33,920.6 L420.58,921.67 L417.73,922.58 L414.76,923.31 L411.66,923.88 L408.41,924.28 L405,924.5" fill="none" stroke="#000" stroke-width="3" stroke-linejoin="round"/>
</g>
<clipPath id="c_h2"><rect x="461.2" y="767.8" width="136.8" height="156.4"/></clipPath>
<g clip-path="url(#c_h2)">
<path d="M461.21,801.79 L463.08,803.15 L464.97,804.5 L466.87,805.83 L468.8,807.15 L470.74,808.46 L472.7,809.76 L474.68,811.04 L476.67,812.32 L478.67,813.59 L480.68,814.85 L482.71,816.1 L484.75,817.35 L486.79,818.59 L488.84,819.83 L490.9,821.07 L492.97,822.31 L495.04,823.54 L497.11,824.78 L499.19,826.01 L501.27,827.25 L503.34,828.49 L505.42,829.74 L507.49,830.99 L509.56,832.25 L511.63,833.51 L513.69,834.78 L515.74,836.07 L517.79,837.36 L519.82,838.66 L521.85,839.97 L523.87,841.3 L525.87,842.64 L527.86,844 L529.84,845.37 L531.8,846.76 L533.74,848.17 L535.67,849.6 L537.58,851.04 L539.47,852.51 L541.33,854 L543.18,855.51 L545,857.04 L546.8,858.6 L548.57,860.19 L550.31,861.8 L552.03,863.44 L553.72,865.11 L555.38,866.81 L557,868.54 L558.6,870.3 L560.16,872.09 L561.69,873.91 L563.18,875.77 L564.61,877.67 L565.98,879.59 L567.27,881.54 L568.46,883.51 L569.54,885.51 L570.49,887.52 L571.3,889.56 L571.95,891.61 L572.43,893.68 L572.72,895.75 L572.81,897.84 L572.69,899.94 L572.33,902.04 L571.73,904.14 L570.9,906.24 L569.85,908.31 L568.61,910.37 L567.18,912.38 L565.6,914.34 L563.88,916.24 L562.04,918.08 L560.1,919.83 L558.07,921.49 L555.97,923.04 L553.83,924.48 L551.67,925.8 L459.2,926.2 L459.2,801.79 Z" fill="#bfbfbf" stroke="none"/>
<line x1="461.2" y1="924.2" x2="598" y2="767.8" stroke="#111" stroke-width="1" stroke-dasharray="1.05 1.05"/>
<path d="M461.22,814.3 L462.83,815.24 L464.46,816.19 L466.1,817.15 L467.75,818.12 L469.41,819.09 L471.08,820.08 L472.76,821.08 L474.44,822.09 L476.14,823.11 L477.84,824.14 L479.54,825.19 L481.26,826.24 L482.97,827.31 L484.69,828.38 L486.41,829.47 L488.13,830.58 L489.85,831.69 L491.57,832.82 L493.29,833.96 L495,835.11 L496.72,836.28 L498.43,837.46 L500.13,838.65 L501.83,839.86 L503.53,841.08 L505.21,842.31 L506.89,843.56 L508.56,844.83 L510.22,846.11 L511.87,847.4 L513.51,848.71 L515.13,850.03 L516.75,851.37 L518.34,852.73 L519.93,854.1 L521.5,855.49 L523.05,856.89 L524.58,858.31 L526.1,859.75 L527.59,861.21 L529.07,862.68 L530.53,864.17 L531.96,865.67 L533.38,867.2 L534.76,868.74 L536.13,870.3 L537.47,871.88 L538.78,873.47 L540.07,875.09 L541.33,876.72 L542.56,878.37 L543.76,880.04 L544.91,881.73 L546.02,883.42 L547.07,885.13 L548.07,886.85 L548.99,888.58 L549.85,890.32 L550.62,892.05 L551.31,893.79 L551.91,895.54 L552.41,897.28 L552.81,899.02 L553.1,900.75 L553.27,902.48 L553.32,904.2 L553.24,905.91 L553.03,907.61 L552.67,909.29 L552.17,910.96 L551.52,912.61 L550.7,914.25 L549.72,915.86 L548.57,917.45 L547.24,919.02 L545.72,920.56 L544.02,922.08 L542.11,923.56 L540.01,925.02" fill="none" stroke="#000" stroke-width="1.1"/>
<path d="M461.22,806.29 L462.68,807.29 L464.15,808.29 L465.62,809.3 L467.1,810.31 L468.59,811.33 L470.07,812.36 L471.57,813.39 L473.06,814.43 L474.56,815.47 L476.06,816.52 L477.57,817.58 L479.07,818.64 L480.58,819.71 L482.09,820.79 L483.6,821.87 L485.11,822.96 L486.62,824.06 L488.13,825.16 L489.64,826.28 L491.15,827.39 L492.66,828.52 L494.16,829.65 L495.67,830.8 L497.17,831.95 L498.67,833.1 L500.16,834.27 L501.66,835.44 L503.15,836.62 L504.63,837.81 L506.11,839 L507.59,840.21 L509.06,841.42 L510.52,842.64 L511.98,843.87 L513.43,845.11 L514.87,846.35 L516.31,847.61 L517.74,848.87 L519.16,850.15 L520.57,851.43 L521.97,852.72 L523.36,854.03 L524.73,855.34 L526.08,856.66 L527.42,858 L528.74,859.34 L530.04,860.7 L531.32,862.07 L532.57,863.45 L533.8,864.84 L535.01,866.25 L536.19,867.67 L537.34,869.1 L538.46,870.55 L539.55,872.01 L540.61,873.48 L541.64,874.97 L542.63,876.48 L543.58,878 L544.5,879.53 L545.38,881.08 L546.22,882.65 L547.02,884.23 L547.77,885.83 L548.48,887.44 L549.15,889.08 L549.77,890.73 L550.34,892.39 L550.86,894.08 L551.33,895.78 L551.74,897.51 L552.11,899.25 L552.42,901.01 L552.67,902.79 L552.86,904.59 L553,906.41 L553.08,908.26 L553.09,910.12 L553.04,912" fill="none" stroke="#000" stroke-width="2.7" stroke-dasharray="14.75 7.14"/>
<path d="M461.21,820.99 L463.1,821.69 L464.99,822.4 L466.87,823.13 L468.76,823.88 L470.64,824.64 L472.52,825.42 L474.39,826.21 L476.26,827.02 L478.13,827.85 L479.99,828.69 L481.84,829.56 L483.69,830.43 L485.54,831.33 L487.37,832.24 L489.21,833.17 L491.03,834.12 L492.85,835.08 L494.66,836.06 L496.46,837.06 L498.25,838.07 L500.03,839.11 L501.81,840.16 L503.57,841.23 L505.33,842.31 L507.08,843.42 L508.81,844.54 L510.54,845.68 L512.25,846.83 L513.95,848.01 L515.64,849.2 L517.32,850.41 L518.98,851.64 L520.64,852.89 L522.27,854.16 L523.9,855.44 L525.51,856.74 L527.11,858.07 L528.69,859.41 L530.26,860.76 L531.81,862.14 L533.34,863.54 L534.86,864.95 L536.36,866.39 L537.85,867.84 L539.32,869.31 L540.77,870.8 L542.2,872.31 L543.62,873.84 L545.02,875.39 L546.39,876.96 L547.75,878.55 L549.09,880.15 L550.41,881.78 L551.7,883.43 L552.96,885.09 L554.18,886.77 L555.35,888.46 L556.44,890.17 L557.47,891.88 L558.4,893.61 L559.24,895.34 L559.98,897.08 L560.59,898.82 L561.08,900.56 L561.43,902.3 L561.63,904.05 L561.67,905.79 L561.54,907.52 L561.22,909.25 L560.72,910.97 L560.02,912.67 L559.13,914.35 L558.03,916.01 L556.72,917.63 L555.21,919.21 L553.48,920.75 L551.53,922.23 L549.36,923.66 L546.97,925.02" fill="none" stroke="#000" stroke-width="3" stroke-linejoin="round"/>
</g>
<line x1="50.4" y1="231.37" x2="187.2" y2="231.37" stroke="#333" stroke-width="0.9" stroke-dasharray="1.2 1.3"/>
<line x1="325" y1="234.8" x2="461.2" y2="234.8" stroke="#333" stroke-width="0.9" stroke-dasharray="1.2 1.3"/>
<line x1="461.2" y1="229" x2="597.6" y2="229" stroke="#333" stroke-width="0.9" stroke-dasharray="1.2 1.3"/>
<line x1="50.4" y1="459.07" x2="324.4" y2="459.07" stroke="#333" stroke-width="0.9" stroke-dasharray="1.2 1.3"/>
<line x1="324.4" y1="459.07" x2="597.6" y2="459.07" stroke="#333" stroke-width="0.9" stroke-dasharray="1.2 1.3"/>
<line x1="50.4" y1="687.07" x2="324.4" y2="687.07" stroke="#333" stroke-width="0.9" stroke-dasharray="1.2 1.3"/>
<line x1="324.4" y1="687.07" x2="597.6" y2="687.07" stroke="#333" stroke-width="0.9" stroke-dasharray="1.2 1.3"/>
<line x1="50.4" y1="914.37" x2="324.4" y2="914.37" stroke="#333" stroke-width="0.9" stroke-dasharray="1.2 1.3"/>
<line x1="324.4" y1="914.37" x2="597.6" y2="914.37" stroke="#333" stroke-width="0.9" stroke-dasharray="1.2 1.3"/>
<line x1="89.49" y1="241.2" x2="89.49" y2="237.4" stroke="#111" stroke-width="1.1"/>
<line x1="128.57" y1="241.2" x2="128.57" y2="237.4" stroke="#111" stroke-width="1.1"/>
<line x1="167.66" y1="241.2" x2="167.66" y2="237.4" stroke="#111" stroke-width="1.1"/>
<line x1="50.4" y1="196.51" x2="54.2" y2="196.51" stroke="#111" stroke-width="1.1"/>
<line x1="50.4" y1="151.83" x2="54.2" y2="151.83" stroke="#111" stroke-width="1.1"/>
<line x1="50.4" y1="107.14" x2="54.2" y2="107.14" stroke="#111" stroke-width="1.1"/>
<rect x="50.4" y="84.8" width="136.8" height="156.4" fill="none" stroke="#111" stroke-width="1.4"/>
<line x1="363.91" y1="241.2" x2="363.91" y2="237.4" stroke="#111" stroke-width="1.1"/>
<line x1="402.83" y1="241.2" x2="402.83" y2="237.4" stroke="#111" stroke-width="1.1"/>
<line x1="441.74" y1="241.2" x2="441.74" y2="237.4" stroke="#111" stroke-width="1.1"/>
<line x1="325" y1="196.51" x2="328.8" y2="196.51" stroke="#111" stroke-width="1.1"/>
<line x1="325" y1="151.83" x2="328.8" y2="151.83" stroke="#111" stroke-width="1.1"/>
<line x1="325" y1="107.14" x2="328.8" y2="107.14" stroke="#111" stroke-width="1.1"/>
<rect x="325" y="84.8" width="136.2" height="156.4" fill="none" stroke="#111" stroke-width="1.4"/>
<line x1="500.17" y1="241.2" x2="500.17" y2="237.4" stroke="#111" stroke-width="1.1"/>
<line x1="539.14" y1="241.2" x2="539.14" y2="237.4" stroke="#111" stroke-width="1.1"/>
<line x1="578.11" y1="241.2" x2="578.11" y2="237.4" stroke="#111" stroke-width="1.1"/>
<line x1="461.2" y1="196.51" x2="465" y2="196.51" stroke="#111" stroke-width="1.1"/>
<line x1="461.2" y1="151.83" x2="465" y2="151.83" stroke="#111" stroke-width="1.1"/>
<line x1="461.2" y1="107.14" x2="465" y2="107.14" stroke="#111" stroke-width="1.1"/>
<rect x="461.2" y="84.8" width="136.4" height="156.4" fill="none" stroke="#111" stroke-width="1.4"/>
<line x1="89.49" y1="468.9" x2="89.49" y2="465.1" stroke="#111" stroke-width="1.1"/>
<line x1="128.57" y1="468.9" x2="128.57" y2="465.1" stroke="#111" stroke-width="1.1"/>
<line x1="167.66" y1="468.9" x2="167.66" y2="465.1" stroke="#111" stroke-width="1.1"/>
<line x1="50.4" y1="424.21" x2="54.2" y2="424.21" stroke="#111" stroke-width="1.1"/>
<line x1="50.4" y1="379.53" x2="54.2" y2="379.53" stroke="#111" stroke-width="1.1"/>
<line x1="50.4" y1="334.84" x2="54.2" y2="334.84" stroke="#111" stroke-width="1.1"/>
<rect x="50.4" y="312.5" width="136.8" height="156.4" fill="none" stroke="#111" stroke-width="1.4"/>
<line x1="226.29" y1="468.9" x2="226.29" y2="465.1" stroke="#111" stroke-width="1.1"/>
<line x1="265.37" y1="468.9" x2="265.37" y2="465.1" stroke="#111" stroke-width="1.1"/>
<line x1="304.46" y1="468.9" x2="304.46" y2="465.1" stroke="#111" stroke-width="1.1"/>
<line x1="187.2" y1="424.21" x2="191" y2="424.21" stroke="#111" stroke-width="1.1"/>
<line x1="187.2" y1="379.53" x2="191" y2="379.53" stroke="#111" stroke-width="1.1"/>
<line x1="187.2" y1="334.84" x2="191" y2="334.84" stroke="#111" stroke-width="1.1"/>
<rect x="187.2" y="312.5" width="136.8" height="156.4" fill="none" stroke="#111" stroke-width="1.4"/>
<line x1="363.49" y1="468.9" x2="363.49" y2="465.1" stroke="#111" stroke-width="1.1"/>
<line x1="402.57" y1="468.9" x2="402.57" y2="465.1" stroke="#111" stroke-width="1.1"/>
<line x1="441.66" y1="468.9" x2="441.66" y2="465.1" stroke="#111" stroke-width="1.1"/>
<line x1="324.4" y1="424.21" x2="328.2" y2="424.21" stroke="#111" stroke-width="1.1"/>
<line x1="324.4" y1="379.53" x2="328.2" y2="379.53" stroke="#111" stroke-width="1.1"/>
<line x1="324.4" y1="334.84" x2="328.2" y2="334.84" stroke="#111" stroke-width="1.1"/>
<rect x="324.4" y="312.5" width="136.8" height="156.4" fill="none" stroke="#111" stroke-width="1.4"/>
<line x1="500.29" y1="468.9" x2="500.29" y2="465.1" stroke="#111" stroke-width="1.1"/>
<line x1="539.37" y1="468.9" x2="539.37" y2="465.1" stroke="#111" stroke-width="1.1"/>
<line x1="578.46" y1="468.9" x2="578.46" y2="465.1" stroke="#111" stroke-width="1.1"/>
<line x1="461.2" y1="424.21" x2="465" y2="424.21" stroke="#111" stroke-width="1.1"/>
<line x1="461.2" y1="379.53" x2="465" y2="379.53" stroke="#111" stroke-width="1.1"/>
<line x1="461.2" y1="334.84" x2="465" y2="334.84" stroke="#111" stroke-width="1.1"/>
<rect x="461.2" y="312.5" width="136.8" height="156.4" fill="none" stroke="#111" stroke-width="1.4"/>
<line x1="89.49" y1="696.9" x2="89.49" y2="693.1" stroke="#111" stroke-width="1.1"/>
<line x1="128.57" y1="696.9" x2="128.57" y2="693.1" stroke="#111" stroke-width="1.1"/>
<line x1="167.66" y1="696.9" x2="167.66" y2="693.1" stroke="#111" stroke-width="1.1"/>
<line x1="50.4" y1="652.21" x2="54.2" y2="652.21" stroke="#111" stroke-width="1.1"/>
<line x1="50.4" y1="607.53" x2="54.2" y2="607.53" stroke="#111" stroke-width="1.1"/>
<line x1="50.4" y1="562.84" x2="54.2" y2="562.84" stroke="#111" stroke-width="1.1"/>
<rect x="50.4" y="540.5" width="136.8" height="156.4" fill="none" stroke="#111" stroke-width="1.4"/>
<line x1="226.29" y1="696.9" x2="226.29" y2="693.1" stroke="#111" stroke-width="1.1"/>
<line x1="265.37" y1="696.9" x2="265.37" y2="693.1" stroke="#111" stroke-width="1.1"/>
<line x1="304.46" y1="696.9" x2="304.46" y2="693.1" stroke="#111" stroke-width="1.1"/>
<line x1="187.2" y1="652.21" x2="191" y2="652.21" stroke="#111" stroke-width="1.1"/>
<line x1="187.2" y1="607.53" x2="191" y2="607.53" stroke="#111" stroke-width="1.1"/>
<line x1="187.2" y1="562.84" x2="191" y2="562.84" stroke="#111" stroke-width="1.1"/>
<rect x="187.2" y="540.5" width="136.8" height="156.4" fill="none" stroke="#111" stroke-width="1.4"/>
<line x1="363.49" y1="696.9" x2="363.49" y2="693.1" stroke="#111" stroke-width="1.1"/>
<line x1="402.57" y1="696.9" x2="402.57" y2="693.1" stroke="#111" stroke-width="1.1"/>
<line x1="441.66" y1="696.9" x2="441.66" y2="693.1" stroke="#111" stroke-width="1.1"/>
<line x1="324.4" y1="652.21" x2="328.2" y2="652.21" stroke="#111" stroke-width="1.1"/>
<line x1="324.4" y1="607.53" x2="328.2" y2="607.53" stroke="#111" stroke-width="1.1"/>
<line x1="324.4" y1="562.84" x2="328.2" y2="562.84" stroke="#111" stroke-width="1.1"/>
<rect x="324.4" y="540.5" width="136.8" height="156.4" fill="none" stroke="#111" stroke-width="1.4"/>
<line x1="500.29" y1="696.9" x2="500.29" y2="693.1" stroke="#111" stroke-width="1.1"/>
<line x1="539.37" y1="696.9" x2="539.37" y2="693.1" stroke="#111" stroke-width="1.1"/>
<line x1="578.46" y1="696.9" x2="578.46" y2="693.1" stroke="#111" stroke-width="1.1"/>
<line x1="461.2" y1="652.21" x2="465" y2="652.21" stroke="#111" stroke-width="1.1"/>
<line x1="461.2" y1="607.53" x2="465" y2="607.53" stroke="#111" stroke-width="1.1"/>
<line x1="461.2" y1="562.84" x2="465" y2="562.84" stroke="#111" stroke-width="1.1"/>
<rect x="461.2" y="540.5" width="136.8" height="156.4" fill="none" stroke="#111" stroke-width="1.4"/>
<line x1="89.49" y1="924.2" x2="89.49" y2="920.4" stroke="#111" stroke-width="1.1"/>
<line x1="128.57" y1="924.2" x2="128.57" y2="920.4" stroke="#111" stroke-width="1.1"/>
<line x1="167.66" y1="924.2" x2="167.66" y2="920.4" stroke="#111" stroke-width="1.1"/>
<line x1="50.4" y1="879.51" x2="54.2" y2="879.51" stroke="#111" stroke-width="1.1"/>
<line x1="50.4" y1="834.83" x2="54.2" y2="834.83" stroke="#111" stroke-width="1.1"/>
<line x1="50.4" y1="790.14" x2="54.2" y2="790.14" stroke="#111" stroke-width="1.1"/>
<rect x="50.4" y="767.8" width="136.8" height="156.4" fill="none" stroke="#111" stroke-width="1.4"/>
<line x1="226.29" y1="924.2" x2="226.29" y2="920.4" stroke="#111" stroke-width="1.1"/>
<line x1="265.37" y1="924.2" x2="265.37" y2="920.4" stroke="#111" stroke-width="1.1"/>
<line x1="304.46" y1="924.2" x2="304.46" y2="920.4" stroke="#111" stroke-width="1.1"/>
<line x1="187.2" y1="879.51" x2="191" y2="879.51" stroke="#111" stroke-width="1.1"/>
<line x1="187.2" y1="834.83" x2="191" y2="834.83" stroke="#111" stroke-width="1.1"/>
<line x1="187.2" y1="790.14" x2="191" y2="790.14" stroke="#111" stroke-width="1.1"/>
<rect x="187.2" y="767.8" width="136.8" height="156.4" fill="none" stroke="#111" stroke-width="1.4"/>
<line x1="363.49" y1="924.2" x2="363.49" y2="920.4" stroke="#111" stroke-width="1.1"/>
<line x1="402.57" y1="924.2" x2="402.57" y2="920.4" stroke="#111" stroke-width="1.1"/>
<line x1="441.66" y1="924.2" x2="441.66" y2="920.4" stroke="#111" stroke-width="1.1"/>
<line x1="324.4" y1="879.51" x2="328.2" y2="879.51" stroke="#111" stroke-width="1.1"/>
<line x1="324.4" y1="834.83" x2="328.2" y2="834.83" stroke="#111" stroke-width="1.1"/>
<line x1="324.4" y1="790.14" x2="328.2" y2="790.14" stroke="#111" stroke-width="1.1"/>
<rect x="324.4" y="767.8" width="136.8" height="156.4" fill="none" stroke="#111" stroke-width="1.4"/>
<line x1="500.29" y1="924.2" x2="500.29" y2="920.4" stroke="#111" stroke-width="1.1"/>
<line x1="539.37" y1="924.2" x2="539.37" y2="920.4" stroke="#111" stroke-width="1.1"/>
<line x1="578.46" y1="924.2" x2="578.46" y2="920.4" stroke="#111" stroke-width="1.1"/>
<line x1="461.2" y1="879.51" x2="465" y2="879.51" stroke="#111" stroke-width="1.1"/>
<line x1="461.2" y1="834.83" x2="465" y2="834.83" stroke="#111" stroke-width="1.1"/>
<line x1="461.2" y1="790.14" x2="465" y2="790.14" stroke="#111" stroke-width="1.1"/>
<rect x="461.2" y="767.8" width="136.8" height="156.4" fill="none" stroke="#111" stroke-width="1.4"/>
<line x1="131.7" y1="106.7" x2="146.2" y2="123.4" stroke="#222" stroke-width="0.9"/>
<path d="M147.8,125.3 L142.6,121.9 L145.3,119.6 Z" fill="#222"/>
<rect x="70" y="184.5" width="55" height="23" fill="#fff"/>
<line x1="113" y1="210.3" x2="113" y2="224.5" stroke="#333" stroke-width="0.9"/>
<path d="M113,228.6 L110.6,222.6 L115.4,222.6 Z" fill="#333"/>
<rect x="152" y="234" width="46" height="15" fill="#fff" stroke="#f0f0f0" stroke-width="0.6"/>
<rect x="197.4" y="130.4" width="113.2" height="43.2" fill="#fff" stroke="#eaeaea" stroke-width="0.7"/>
<line x1="168" y1="212.4" x2="265" y2="212.4" stroke="#444" stroke-width="0.9" stroke-dasharray="4 2.6"/>
<rect x="427.5" y="246.5" width="47" height="24" fill="none" stroke="#f2f2f2" stroke-width="0.7"/>
<rect x="151.3" y="473.8" width="47" height="24" fill="none" stroke="#f2f2f2" stroke-width="0.7"/>
<rect x="427.5" y="473.8" width="47" height="24" fill="none" stroke="#f2f2f2" stroke-width="0.7"/>
<rect x="151.3" y="701.5" width="47" height="24" fill="none" stroke="#f2f2f2" stroke-width="0.7"/>
<rect x="427.5" y="701.5" width="47" height="24" fill="none" stroke="#f2f2f2" stroke-width="0.7"/>
<rect x="151.3" y="929" width="47" height="24" fill="none" stroke="#f2f2f2" stroke-width="0.7"/>
<rect x="427.5" y="929" width="47" height="24" fill="none" stroke="#f2f2f2" stroke-width="0.7"/>
<text x="58.19" y="11.7" font-size="14.2" textLength="206.3" lengthAdjust="spacingAndGlyphs">Interaction Curves corresponding to</text>
<text x="107.99" y="29" font-size="14.2" textLength="309.76" lengthAdjust="spacingAndGlyphs">Spalling Load (1st Peak Load) by Numerical Analysis</text>
<text x="107.99" y="45.9" font-size="14.2" textLength="477.02" lengthAdjust="spacingAndGlyphs">Residual Strength (2nd Peak Load) by Numerical Analysis (Shaded Area: Case (a))</text>
<text x="107.99" y="63.4" font-size="14.2" textLength="281.03" lengthAdjust="spacingAndGlyphs">Residual Strength by Proposed Simple Approach</text>
<text x="2.8" y="87.6" font-size="14.3" font-style="italic">P</text>
<text x="11" y="89.2" font-size="18">(</text>
<text x="17.8" y="87.6" font-size="14.3" textLength="17.48" lengthAdjust="spacingAndGlyphs">kN</text>
<text x="36.6" y="89.2" font-size="18">)</text>
<text x="101.7" y="98.8" font-size="13.2" font-style="italic">e</text>
<text x="108" y="102.6" font-size="8.2">0</text>
<text x="116" y="98.8" font-size="13.2" style="fill:#444">/</text>
<text x="122.7" y="98.8" font-size="13.2" font-style="italic">b</text>
<text x="131.68" y="99" font-size="13.5" textLength="10.04" lengthAdjust="spacingAndGlyphs">=</text>
<text x="144.2" y="99.2" font-size="13.2" textLength="17.58" lengthAdjust="spacingAndGlyphs">0.1</text>
<text x="73.3" y="199.2" font-size="14.0" textLength="14.77" lengthAdjust="spacingAndGlyphs">0.1</text>
<text x="88.4" y="199.2" font-size="14.0" font-style="italic">A</text>
<text x="97.3" y="202.2" font-size="9.5" font-style="italic">g</text>
<text x="104.1" y="199.2" font-size="15.0" font-style="italic">f</text>
<text x="110" y="198.6" font-size="14.0">′</text>
<text x="112.3" y="203.5" font-size="9.5" font-style="italic" textLength="11.24" lengthAdjust="spacingAndGlyphs">c,u</text>
<text x="157.8" y="247.7" font-size="14.5" font-style="italic">M</text>
<text x="172.7" y="249.1" font-size="18">(</text>
<text x="178.37" y="247.7" font-size="14.5" textLength="34.8" lengthAdjust="spacingAndGlyphs">kN-m</text>
<text x="213" y="249.1" font-size="18">)</text>
<text x="215.58" y="148.6" font-size="14.2" textLength="76.33" lengthAdjust="spacingAndGlyphs">Compression</text>
<text x="206" y="166" font-size="14.2" textLength="94.95" lengthAdjust="spacingAndGlyphs">-controlled Zone</text>
<text x="226.08" y="207.8" font-size="14.2" textLength="53.8" lengthAdjust="spacingAndGlyphs">Balanced</text>
<text x="232.57" y="224.8" font-size="14.2" textLength="41.53" lengthAdjust="spacingAndGlyphs">Failure</text>
<text x="232.1" y="252.7" font-size="14.2" textLength="44.31" lengthAdjust="spacingAndGlyphs">Tension</text>
<text x="206.4" y="270.2" font-size="14.2" textLength="94.75" lengthAdjust="spacingAndGlyphs">-controlled Zone</text>
<text x="55.2" y="283" font-size="16.2" font-weight="bold" textLength="20.76" lengthAdjust="spacingAndGlyphs">(a)</text>
<text x="80.98" y="283" font-size="16.2" textLength="100.01" lengthAdjust="spacingAndGlyphs">CES-A Section</text>
<text x="81.25" y="302.5" font-size="16.2" textLength="219.68" lengthAdjust="spacingAndGlyphs">with Default Parameters (<tspan font-weight="bold">Fig. 10</tspan>)</text>
<text x="355.44" y="282.5" font-size="16.2" font-weight="bold" textLength="20.9" lengthAdjust="spacingAndGlyphs">(b)</text>
<text x="380.99" y="282.5" font-size="16.2" textLength="180.67" lengthAdjust="spacingAndGlyphs">Effect of Concrete Strength</text>
<text x="92.59" y="509.9" font-size="16.2" font-weight="bold" textLength="19.99" lengthAdjust="spacingAndGlyphs">(c)</text>
<text x="118.19" y="509.9" font-size="16.2" textLength="160.71" lengthAdjust="spacingAndGlyphs">Effect of Angle Strength</text>
<text x="373.76" y="509.9" font-size="16.2" font-weight="bold" textLength="20.57" lengthAdjust="spacingAndGlyphs">(d)</text>
<text x="402.98" y="509.9" font-size="16.2" textLength="136.41" lengthAdjust="spacingAndGlyphs">Effect of Angle Area</text>
<text x="75.72" y="738" font-size="16.2" font-weight="bold" textLength="19.32" lengthAdjust="spacingAndGlyphs">(e)</text>
<text x="101.48" y="738" font-size="16.2" textLength="193.7" lengthAdjust="spacingAndGlyphs">Effect of Angle Compactness</text>
<text x="366.97" y="738" font-size="16.2" font-weight="bold" textLength="16.71" lengthAdjust="spacingAndGlyphs">(f)</text>
<text x="387.48" y="738" font-size="16.2" textLength="164.5" lengthAdjust="spacingAndGlyphs">Effect of Batten Strength</text>
<text x="86.91" y="966" font-size="16.2" font-weight="bold" textLength="20.54" lengthAdjust="spacingAndGlyphs">(g)</text>
<text x="111.48" y="966" font-size="16.2" textLength="175.39" lengthAdjust="spacingAndGlyphs">Effect of Batten Thickness</text>
<text x="363.92" y="966" font-size="16.2" font-weight="bold" textLength="21.45" lengthAdjust="spacingAndGlyphs">(h)</text>
<text x="390.48" y="966" font-size="16.2" textLength="161.8" lengthAdjust="spacingAndGlyphs">Effect of Batten Spacing</text>
<text x="378.37" y="300" font-size="14.2" textLength="57.43" lengthAdjust="spacingAndGlyphs">(Case (a):</text>
<text x="438.5" y="300" font-size="15.0" font-style="italic">f</text>
<text x="447" y="299.2" font-size="14">′</text>
<text x="450.5" y="302.8" font-size="10.5" font-style="italic" textLength="14.64" lengthAdjust="spacingAndGlyphs">c,u</text>
<text x="468" y="300" font-size="14.2">=</text>
<text x="479.46" y="300" font-size="14.2" textLength="47.59" lengthAdjust="spacingAndGlyphs">60MPa)</text>
<text x="116.27" y="526.8" font-size="14.2" textLength="57.43" lengthAdjust="spacingAndGlyphs">(Case (a):</text>
<text x="176.5" y="526.8" font-size="15.0" font-style="italic">f</text>
<text x="182.6" y="529.6" font-size="10.5" font-style="italic" textLength="9.62" lengthAdjust="spacingAndGlyphs">ys</text>
<text x="197" y="526.8" font-size="14.2">=</text>
<text x="208.46" y="526.8" font-size="14.2" textLength="54.68" lengthAdjust="spacingAndGlyphs">650MPa)</text>
<text x="400.67" y="526.8" font-size="14.2" textLength="57.43" lengthAdjust="spacingAndGlyphs">(Case (a):</text>
<text x="461" y="526.8" font-size="15.0" font-style="italic">ρ</text>
<text x="469" y="529.6" font-size="10.5" font-style="italic">s</text>
<text x="477" y="526.8" font-size="14.2">=</text>
<text x="488.96" y="526.8" font-size="14.2" textLength="35.53" lengthAdjust="spacingAndGlyphs">3.8%)</text>
<text x="99.67" y="756.6" font-size="14.2" textLength="57.43" lengthAdjust="spacingAndGlyphs">(Case (a):</text>
<text x="160" y="756.6" font-size="15.0" font-style="italic">b</text>
<text x="168.5" y="755.8" font-size="14">′</text>
<text x="171.8" y="759.4" font-size="10.5" font-style="italic">s</text>
<text x="177" y="756.6" font-size="14.2">/</text>
<text x="182" y="756.6" font-size="15.0" font-style="italic">t</text>
<text x="190" y="759.4" font-size="10.5" font-style="italic">s</text>
<text x="198" y="756.6" font-size="14.2">=</text>
<text x="207.81" y="756.6" font-size="14.2" textLength="31.72" lengthAdjust="spacingAndGlyphs">11.5)</text>
<text x="387.97" y="756.6" font-size="14.2" textLength="57.43" lengthAdjust="spacingAndGlyphs">(Case (a):</text>
<text x="449" y="756.6" font-size="15.0" font-style="italic">f</text>
<text x="455.22" y="759.4" font-size="10.5" font-style="italic" textLength="9.26" lengthAdjust="spacingAndGlyphs">yt</text>
<text x="468.5" y="756.6" font-size="14.2">=</text>
<text x="479.97" y="756.6" font-size="14.2" textLength="54.16" lengthAdjust="spacingAndGlyphs">315MPa)</text>
<text x="107.97" y="983.6" font-size="14.2" textLength="57.43" lengthAdjust="spacingAndGlyphs">(Case (a):</text>
<text x="168.5" y="983.6" font-size="15.0" font-style="italic">t</text>
<text x="174" y="986.4" font-size="10.5" font-style="italic">t</text>
<text x="182.5" y="983.6" font-size="14.2">=</text>
<text x="194.48" y="983.6" font-size="14.2" textLength="41.3" lengthAdjust="spacingAndGlyphs">12mm)</text>
<text x="387.97" y="983.6" font-size="14.2" textLength="57.43" lengthAdjust="spacingAndGlyphs">(Case (a):</text>
<text x="449" y="983.6" font-size="15.0" font-style="italic">s</text>
<text x="454.5" y="986.4" font-size="10.5" font-style="italic">t</text>
<text x="460" y="983.6" font-size="14.2">/</text>
<text x="465.5" y="983.6" font-size="15.0" font-style="italic">b</text>
<text x="474.5" y="986.4" font-size="10.5" font-style="italic">c</text>
<text x="483" y="983.6" font-size="14.2">=</text>
<text x="497" y="983.6" font-size="14.2" textLength="20.94" lengthAdjust="spacingAndGlyphs">0.5)</text>
<text x="356.6" y="104.9" font-size="15.5" font-style="italic">f</text>
<text x="364" y="104.4" font-size="15">′</text>
<text x="362.8" y="108.9" font-size="9.5" font-style="italic" textLength="11.55" lengthAdjust="spacingAndGlyphs">c,u</text>
<text x="378.5" y="104.9" font-size="14.2">=</text>
<text x="391" y="104.9" font-size="14.2" textLength="40.3" lengthAdjust="spacingAndGlyphs">40MPa</text>
<text x="511" y="104.6" font-size="15.5" font-style="italic">f</text>
<text x="518.4" y="104.1" font-size="15">′</text>
<text x="517.2" y="108.6" font-size="9.5" font-style="italic" textLength="11.55" lengthAdjust="spacingAndGlyphs">c,u</text>
<text x="531.2" y="104.6" font-size="14.2">=</text>
<text x="541.47" y="104.6" font-size="14.2" textLength="42.23" lengthAdjust="spacingAndGlyphs">80MPa</text>
<text x="79.2" y="332.9" font-size="15.5" font-style="italic">f</text>
<text x="86.8" y="336.3" font-size="9.5" font-style="italic">ys</text>
<text x="98.2" y="332.9" font-size="14.2">=</text>
<text x="109" y="332.9" font-size="14.2" textLength="47.89" lengthAdjust="spacingAndGlyphs">315MPa</text>
<text x="218" y="332.9" font-size="15.5" font-style="italic">f</text>
<text x="225.6" y="336.3" font-size="9.5" font-style="italic">ys</text>
<text x="236" y="332.9" font-size="14.2">=</text>
<text x="248.3" y="332.9" font-size="14.2" textLength="47.99" lengthAdjust="spacingAndGlyphs">450MPa</text>
<text x="356" y="561.3" font-size="15.5" font-style="italic">f</text>
<text x="363.6" y="564.7" font-size="9.5" font-style="italic">yt</text>
<text x="373.3" y="561.3" font-size="14.2">=</text>
<text x="384.2" y="561.3" font-size="14.2" textLength="48.69" lengthAdjust="spacingAndGlyphs">450MPa</text>
<text x="492" y="561.3" font-size="15.5" font-style="italic">f</text>
<text x="499.6" y="564.7" font-size="9.5" font-style="italic">yt</text>
<text x="509.3" y="561.3" font-size="14.2">=</text>
<text x="519.17" y="561.3" font-size="14.2" textLength="49.42" lengthAdjust="spacingAndGlyphs">650MPa</text>
<text x="368" y="333.2" font-size="14.2" font-style="italic">ρ</text>
<text x="375.6" y="336.6" font-size="9.5" font-style="italic">s</text>
<text x="382.7" y="333.2" font-size="14.2">=</text>
<text x="392.32" y="333.2" font-size="14.2" textLength="28.93" lengthAdjust="spacingAndGlyphs">3.2%</text>
<text x="503.3" y="333.2" font-size="14.2" font-style="italic">ρ</text>
<text x="510.9" y="336.6" font-size="9.5" font-style="italic">s</text>
<text x="518" y="333.2" font-size="14.2">=</text>
<text x="528.8" y="333.2" font-size="14.2" textLength="28.14" lengthAdjust="spacingAndGlyphs">4.8%</text>
<text x="88.3" y="560.9" font-size="14.2" font-style="italic">b</text>
<text x="95.9" y="559.4" font-size="12">′</text>
<text x="96.1" y="564.5" font-size="9.5" font-style="italic">s</text>
<text x="102" y="560.9" font-size="14.2" font-style="italic">/</text>
<text x="107.7" y="560.9" font-size="14.2" font-style="italic">t</text>
<text x="113.1" y="564.5" font-size="9.5" font-style="italic">s</text>
<text x="119" y="560.9" font-size="14.2">=</text>
<text x="127.89" y="560.9" font-size="14.2" textLength="19.62" lengthAdjust="spacingAndGlyphs">7.0</text>
<text x="224.3" y="560.7" font-size="14.2" font-style="italic">b</text>
<text x="231.9" y="559.2" font-size="12">′</text>
<text x="232.1" y="564.3" font-size="9.5" font-style="italic">s</text>
<text x="237.3" y="560.7" font-size="14.2" font-style="italic">/</text>
<text x="243" y="560.7" font-size="14.2" font-style="italic">t</text>
<text x="248.4" y="564.3" font-size="9.5" font-style="italic">s</text>
<text x="255.3" y="560.7" font-size="14.2">=</text>
<text x="262.58" y="560.7" font-size="14.2" textLength="26.3" lengthAdjust="spacingAndGlyphs">16.5</text>
<text x="89.3" y="789.5" font-size="14.2" font-style="italic">t</text>
<text x="94.9" y="793.1" font-size="9.5" font-style="italic">t</text>
<text x="99.8" y="789.5" font-size="14.2">=</text>
<text x="108.82" y="789.5" font-size="14.2" textLength="37.76" lengthAdjust="spacingAndGlyphs">10mm</text>
<text x="227.8" y="789.5" font-size="14.2" font-style="italic">t</text>
<text x="233.4" y="793.1" font-size="9.5" font-style="italic">t</text>
<text x="238.3" y="789.5" font-size="14.2">=</text>
<text x="247.52" y="789.5" font-size="14.2" textLength="37.76" lengthAdjust="spacingAndGlyphs">15mm</text>
<text x="362.3" y="788.7" font-size="14.2" font-style="italic">s</text>
<text x="368.3" y="792.3" font-size="9.5" font-style="italic">t</text>
<text x="375" y="788.7" font-size="14.2" font-style="italic">/</text>
<text x="381.3" y="788.7" font-size="14.2" font-style="italic">b</text>
<text x="389.3" y="792.3" font-size="9.5" font-style="italic">c</text>
<text x="395.3" y="788.7" font-size="14.2">=</text>
<text x="407" y="788.7" font-size="14.2" textLength="18.78" lengthAdjust="spacingAndGlyphs">0.3</text>
<text x="500" y="788.7" font-size="14.2" font-style="italic">s</text>
<text x="506" y="792.3" font-size="9.5" font-style="italic">t</text>
<text x="512.7" y="788.7" font-size="14.2" font-style="italic">/</text>
<text x="519" y="788.7" font-size="14.2" font-style="italic">b</text>
<text x="527" y="792.3" font-size="9.5" font-style="italic">c</text>
<text x="533" y="788.7" font-size="14.2">=</text>
<text x="541.63" y="788.7" font-size="14.2" textLength="21.04" lengthAdjust="spacingAndGlyphs">1.0</text>
<text x="30.4" y="245.3" font-size="14.4">0</text>
<text x="1.4" y="200.61" font-size="14.4">10000</text>
<text x="1.4" y="155.93" font-size="14.4">20000</text>
<text x="1.4" y="111.24" font-size="14.4">30000</text>
<text x="30.4" y="473" font-size="14.4">0</text>
<text x="1.4" y="428.31" font-size="14.4">10000</text>
<text x="1.4" y="383.63" font-size="14.4">20000</text>
<text x="1.4" y="338.94" font-size="14.4">30000</text>
<text x="30.4" y="701" font-size="14.4">0</text>
<text x="1.4" y="656.31" font-size="14.4">10000</text>
<text x="1.4" y="611.63" font-size="14.4">20000</text>
<text x="1.4" y="566.94" font-size="14.4">30000</text>
<text x="30.4" y="928.3" font-size="14.4">0</text>
<text x="1.4" y="883.61" font-size="14.4">10000</text>
<text x="1.4" y="838.93" font-size="14.4">20000</text>
<text x="1.4" y="794.24" font-size="14.4">30000</text>
<text x="47.2" y="263.5" font-size="14.4">0</text>
<text x="74.79" y="263.5" font-size="14.4">1000</text>
<text x="114.37" y="263.5" font-size="14.4">2000</text>
<text x="153.46" y="263.5" font-size="14.4">3000</text>
<text x="321.8" y="263.5" font-size="14.4">0</text>
<text x="349.21" y="263.5" font-size="14.4">1000</text>
<text x="388.63" y="263.5" font-size="14.4">2000</text>
<text x="458" y="263.5" font-size="14.4">0</text>
<text x="485.47" y="263.5" font-size="14.4">1000</text>
<text x="524.94" y="263.5" font-size="14.4">2000</text>
<text x="563.91" y="263.5" font-size="14.4">3000</text>
<text x="47.2" y="491.2" font-size="14.4">0</text>
<text x="74.79" y="491.2" font-size="14.4">1000</text>
<text x="114.37" y="491.2" font-size="14.4">2000</text>
<text x="184" y="491.2" font-size="14.4">0</text>
<text x="211.59" y="491.2" font-size="14.4">1000</text>
<text x="251.17" y="491.2" font-size="14.4">2000</text>
<text x="321.2" y="491.2" font-size="14.4">0</text>
<text x="348.79" y="491.2" font-size="14.4">1000</text>
<text x="388.37" y="491.2" font-size="14.4">2000</text>
<text x="458" y="491.2" font-size="14.4">0</text>
<text x="485.59" y="491.2" font-size="14.4">1000</text>
<text x="525.17" y="491.2" font-size="14.4">2000</text>
<text x="564.26" y="491.2" font-size="14.4">3000</text>
<text x="47.2" y="719.2" font-size="14.4">0</text>
<text x="74.79" y="719.2" font-size="14.4">1000</text>
<text x="114.37" y="719.2" font-size="14.4">2000</text>
<text x="184" y="719.2" font-size="14.4">0</text>
<text x="211.59" y="719.2" font-size="14.4">1000</text>
<text x="251.17" y="719.2" font-size="14.4">2000</text>
<text x="321.2" y="719.2" font-size="14.4">0</text>
<text x="348.79" y="719.2" font-size="14.4">1000</text>
<text x="388.37" y="719.2" font-size="14.4">2000</text>
<text x="458" y="719.2" font-size="14.4">0</text>
<text x="485.59" y="719.2" font-size="14.4">1000</text>
<text x="525.17" y="719.2" font-size="14.4">2000</text>
<text x="564.26" y="719.2" font-size="14.4">3000</text>
<text x="47.2" y="946.5" font-size="14.4">0</text>
<text x="74.79" y="946.5" font-size="14.4">1000</text>
<text x="114.37" y="946.5" font-size="14.4">2000</text>
<text x="184" y="946.5" font-size="14.4">0</text>
<text x="211.59" y="946.5" font-size="14.4">1000</text>
<text x="251.17" y="946.5" font-size="14.4">2000</text>
<text x="321.2" y="946.5" font-size="14.4">0</text>
<text x="348.79" y="946.5" font-size="14.4">1000</text>
<text x="388.37" y="946.5" font-size="14.4">2000</text>
<text x="458" y="946.5" font-size="14.4">0</text>
<text x="485.59" y="946.5" font-size="14.4">1000</text>
<text x="525.17" y="946.5" font-size="14.4">2000</text>
<text x="564.26" y="946.5" font-size="14.4">3000</text>
</svg>
</body></html>
